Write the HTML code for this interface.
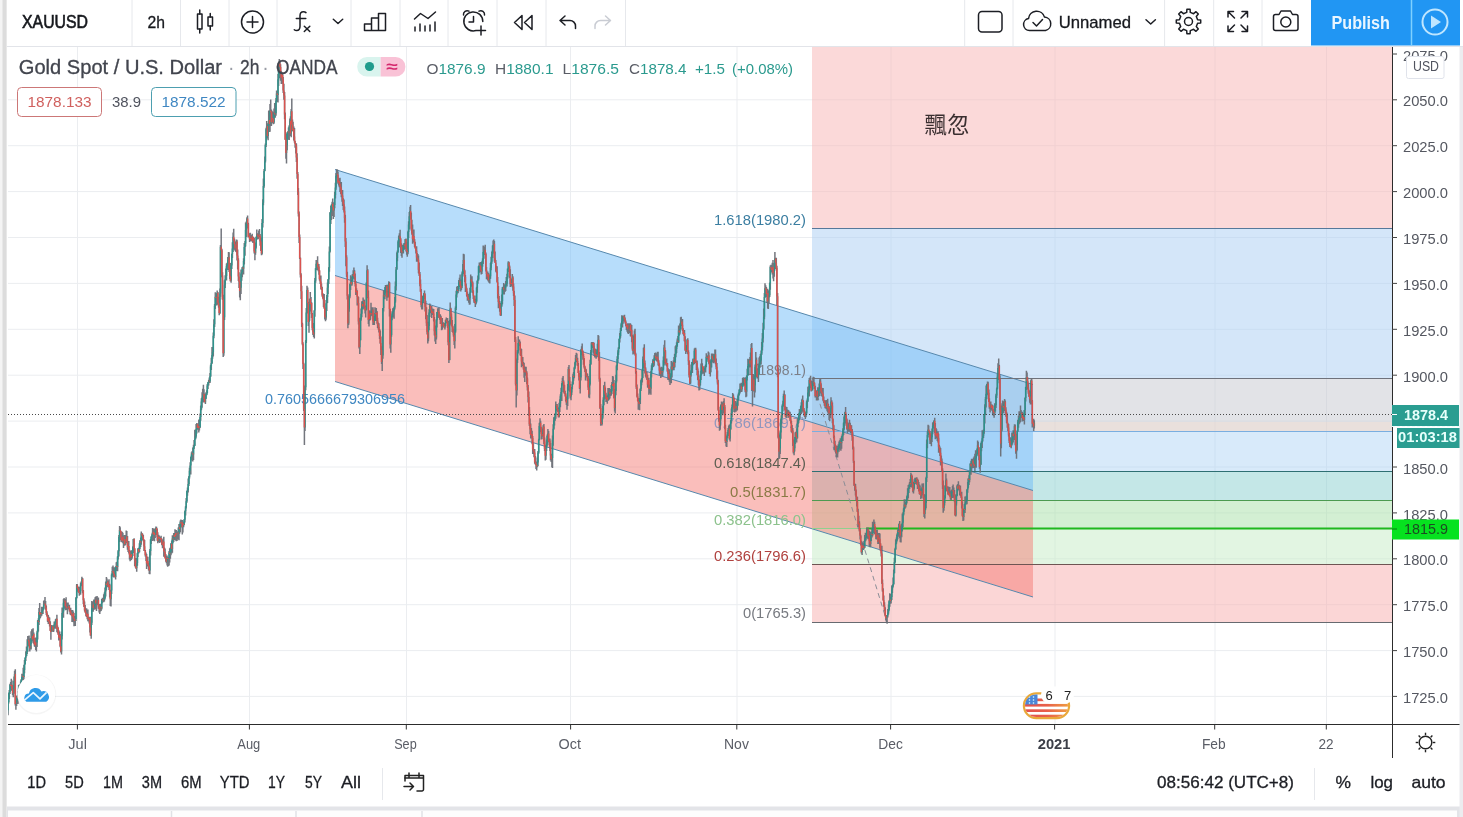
<!DOCTYPE html>
<html lang="en"><head><meta charset="utf-8"><title>XAUUSD chart</title>
<style>html,body{margin:0;padding:0;background:#fff;overflow:hidden}svg{display:block}text{white-space:pre}</style>
</head><body>
<svg width="1463" height="817" viewBox="0 0 1463 817" font-family='"Liberation Sans", sans-serif'>
<rect width="1463" height="817" fill="#ffffff"/>
<clipPath id="cp"><rect x="8" y="47" width="1384" height="677"/></clipPath>
<g clip-path="url(#cp)">
<line x1="77.5" y1="47" x2="77.5" y2="724" stroke="#ebedf0" stroke-width="1"/>
<line x1="249.5" y1="47" x2="249.5" y2="724" stroke="#ebedf0" stroke-width="1"/>
<line x1="406.5" y1="47" x2="406.5" y2="724" stroke="#ebedf0" stroke-width="1"/>
<line x1="570.5" y1="47" x2="570.5" y2="724" stroke="#ebedf0" stroke-width="1"/>
<line x1="737.0" y1="47" x2="737.0" y2="724" stroke="#ebedf0" stroke-width="1"/>
<line x1="891.0" y1="47" x2="891.0" y2="724" stroke="#ebedf0" stroke-width="1"/>
<line x1="1055.0" y1="47" x2="1055.0" y2="724" stroke="#ebedf0" stroke-width="1"/>
<line x1="1215.0" y1="47" x2="1215.0" y2="724" stroke="#ebedf0" stroke-width="1"/>
<line x1="1326.5" y1="47" x2="1326.5" y2="724" stroke="#ebedf0" stroke-width="1"/>
<line x1="8" y1="99.8" x2="1392" y2="99.8" stroke="#ebedf0" stroke-width="1"/>
<line x1="8" y1="145.7" x2="1392" y2="145.7" stroke="#ebedf0" stroke-width="1"/>
<line x1="8" y1="191.6" x2="1392" y2="191.6" stroke="#ebedf0" stroke-width="1"/>
<line x1="8" y1="237.5" x2="1392" y2="237.5" stroke="#ebedf0" stroke-width="1"/>
<line x1="8" y1="283.4" x2="1392" y2="283.4" stroke="#ebedf0" stroke-width="1"/>
<line x1="8" y1="329.3" x2="1392" y2="329.3" stroke="#ebedf0" stroke-width="1"/>
<line x1="8" y1="375.2" x2="1392" y2="375.2" stroke="#ebedf0" stroke-width="1"/>
<line x1="8" y1="421.1" x2="1392" y2="421.1" stroke="#ebedf0" stroke-width="1"/>
<line x1="8" y1="467.0" x2="1392" y2="467.0" stroke="#ebedf0" stroke-width="1"/>
<line x1="8" y1="512.9" x2="1392" y2="512.9" stroke="#ebedf0" stroke-width="1"/>
<line x1="8" y1="558.8" x2="1392" y2="558.8" stroke="#ebedf0" stroke-width="1"/>
<line x1="8" y1="604.7" x2="1392" y2="604.7" stroke="#ebedf0" stroke-width="1"/>
<line x1="8" y1="650.6" x2="1392" y2="650.6" stroke="#ebedf0" stroke-width="1"/>
<line x1="8" y1="696.4" x2="1392" y2="696.4" stroke="#ebedf0" stroke-width="1"/>
<rect x="812" y="47" width="580" height="182" fill="#f7b6b6" fill-opacity="0.52"/>
<rect x="812" y="229" width="580" height="149" fill="#a9cdf3" fill-opacity="0.5"/>
<rect x="812" y="378" width="580" height="53" fill="#c5c8d0" fill-opacity="0.5"/>
<rect x="812" y="431" width="580" height="40" fill="#a9d0f5" fill-opacity="0.45"/>
<rect x="812" y="471" width="580" height="29" fill="#8ad0d0" fill-opacity="0.5"/>
<rect x="812" y="500" width="580" height="28" fill="#a8e0a8" fill-opacity="0.5"/>
<rect x="812" y="528" width="580" height="36" fill="#c5ebc5" fill-opacity="0.5"/>
<rect x="812" y="564" width="580" height="58" fill="#f7b0b0" fill-opacity="0.52"/>
<rect x="812" y="422" width="580" height="9" fill="#f5d9c8" fill-opacity=".35"/>
<polygon points="335,169.5 1033,384.5 1033,490.5 335,275.5" fill="#6fbcf7" fill-opacity=".5"/>
<polygon points="335,275.5 1033,490.5 1033,597 335,381.5" fill="#f5746e" fill-opacity=".47"/>
<line x1="335" y1="169.5" x2="1033" y2="384.5" stroke="#5688ad" stroke-width="1"/>
<line x1="335" y1="275.5" x2="1033" y2="490.5" stroke="#5688ad" stroke-width="1"/>
<line x1="335" y1="381.5" x2="1033" y2="597" stroke="#5688ad" stroke-width="1"/>
<line x1="812" y1="228.5" x2="1392" y2="228.5" stroke="#56789a" stroke-width="1"/>
<line x1="812" y1="378.5" x2="1392" y2="378.5" stroke="#6f727b" stroke-width="1"/>
<line x1="812" y1="431.5" x2="1392" y2="431.5" stroke="#7aaee0" stroke-width="1"/>
<line x1="812" y1="471.5" x2="1392" y2="471.5" stroke="#2f6f73" stroke-width="1"/>
<line x1="812" y1="500.5" x2="1392" y2="500.5" stroke="#4c9a50" stroke-width="1"/>
<line x1="812" y1="528.5" x2="1392" y2="528.5" stroke="#8fd08f" stroke-width="1"/>
<line x1="812" y1="564.5" x2="1392" y2="564.5" stroke="#6e5553" stroke-width="1"/>
<line x1="812" y1="622.5" x2="1392" y2="622.5" stroke="#666a70" stroke-width="1"/>
<line x1="866" y1="528.5" x2="1392" y2="528.5" stroke="#1fb81f" stroke-width="2"/>
<line x1="812" y1="378" x2="887" y2="622" stroke="#8a8d96" stroke-width="1" stroke-dasharray="5,4"/>
<text x="265" y="404" font-size="14.5" fill="#3f87c2" textLength="140" lengthAdjust="spacingAndGlyphs">0.7605666679306956</text>
<text x="806" y="225" font-size="15.5" fill="#3b7ea1" text-anchor="end" textLength="92" lengthAdjust="spacingAndGlyphs">1.618(1980.2)</text>
<text x="806" y="375" font-size="15.5" fill="#7c7f88" text-anchor="end" textLength="60" lengthAdjust="spacingAndGlyphs">1(1898.1)</text>
<text x="806" y="428" font-size="15.5" fill="#9297bd" text-anchor="end" textLength="92" lengthAdjust="spacingAndGlyphs">0.786(1869.7)</text>
<text x="806" y="468" font-size="15.5" fill="#5f5f52" text-anchor="end" textLength="92" lengthAdjust="spacingAndGlyphs">0.618(1847.4)</text>
<text x="806" y="497" font-size="15.5" fill="#8a7a45" text-anchor="end" textLength="76" lengthAdjust="spacingAndGlyphs">0.5(1831.7)</text>
<text x="806" y="525" font-size="15.5" fill="#8cc28c" text-anchor="end" textLength="92" lengthAdjust="spacingAndGlyphs">0.382(1816.0)</text>
<text x="806" y="561" font-size="15.5" fill="#b0413e" text-anchor="end" textLength="92" lengthAdjust="spacingAndGlyphs">0.236(1796.6)</text>
<text x="806" y="618" font-size="15.5" fill="#777a80" text-anchor="end" textLength="63" lengthAdjust="spacingAndGlyphs">0(1765.3)</text>
<text x="924.5" y="132.5" font-size="22.5" fill="#3a2f30" textLength="45" lengthAdjust="spacingAndGlyphs" font-family='"Liberation Sans","Noto Sans CJK TC",sans-serif'>飄忽</text>
<g fill="none" stroke-width="1.5" opacity=".95"><path d="M6.7 712.9V721.5M7.4 707.1V714.8M8.0 700.4V715.3M8.7 693.0V703.5M9.3 690.0V698.9M10.0 683.7V693.9M10.7 681.9V690.3M11.3 678.7V690.1M12.0 680.4V691.1M12.6 688.6V695.2M13.3 685.2V697.2M14.0 676.6V693.8M14.6 670.7V684.3M15.3 669.3V705.5M15.9 699.1V709.8M16.6 695.6V705.9M17.3 695.7V701.3M17.9 691.3V704.1M18.6 685.0V699.9M19.2 684.4V691.0M19.9 684.8V688.4M20.6 681.6V692.5M21.2 679.5V684.9M21.9 673.7V680.8M22.5 674.6V680.6M23.2 667.7V680.1M23.9 665.1V682.2M24.5 659.9V673.2M25.2 657.3V664.6M25.8 651.3V661.0M26.5 646.5V656.3M27.2 639.2V654.0M27.8 636.0V651.7M28.5 637.5V644.0M29.1 635.4V646.1M29.8 641.3V651.6M30.5 638.4V648.6M31.1 631.2V649.5M31.8 629.2V638.4M32.4 630.1V641.5M33.1 628.2V643.2M33.8 632.4V643.8M34.4 637.9V646.4M35.1 639.2V647.0M35.7 637.6V650.1M36.4 637.8V651.4M37.1 630.7V647.0M37.7 620.0V639.5M38.4 618.3V631.6M39.0 608.1V625.1M39.7 602.9V619.2M40.4 611.9V618.0M41.0 612.5V616.4M41.7 606.7V615.7M42.3 609.8V614.1M43.0 606.7V614.0M43.7 600.7V609.4M44.3 600.2V605.6M45.0 597.0V604.8M45.6 601.1V609.7M46.3 605.6V614.9M47.0 611.2V616.7M47.6 614.6V622.0M48.3 615.1V624.0M48.9 616.8V624.1M49.6 617.4V626.6M50.3 621.2V631.1M50.9 627.2V639.7M51.6 625.0V632.0M52.2 625.2V629.9M52.9 625.7V631.5M53.6 625.6V632.1M54.2 621.6V628.8M54.9 622.7V628.3M55.5 619.3V628.7M56.2 618.7V625.5M56.9 614.8V631.9M57.5 625.5V633.0M58.2 627.5V634.8M58.8 630.3V640.4M59.5 631.5V639.3M60.2 634.1V647.3M60.8 641.7V652.4M61.5 631.5V654.6M62.1 607.5V639.4M62.8 609.6V614.5M63.5 599.0V617.8M64.1 597.9V608.7M64.8 598.9V607.7M65.4 601.0V610.2M66.1 597.3V609.5M66.8 602.6V609.9M67.4 606.0V614.3M68.1 602.4V608.8M68.7 605.8V609.2M69.4 604.7V611.5M70.1 608.6V614.6M70.7 607.7V615.3M71.4 610.1V615.0M72.0 609.9V621.9M72.7 610.0V618.2M73.4 611.5V622.3M74.0 612.9V626.3M74.7 616.3V622.5M75.3 616.1V625.9M76.0 597.0V621.1M76.7 584.0V598.5M77.3 584.3V591.7M78.0 586.6V589.7M78.6 586.6V592.7M79.3 587.9V595.8M80.0 586.8V593.5M80.6 582.4V594.7M81.3 581.3V586.2M81.9 576.8V585.5M82.6 577.9V593.3M83.3 589.9V603.9M83.9 598.2V607.0M84.6 601.4V611.2M85.2 605.1V612.6M85.9 609.4V616.2M86.6 608.2V617.1M87.2 612.9V619.2M87.9 609.6V621.2M88.5 617.2V621.4M89.2 616.7V623.4M89.9 617.0V632.4M90.5 623.9V635.8M91.2 616.6V638.7M91.8 600.9V625.0M92.5 601.5V608.1M93.2 602.0V611.8M93.8 599.6V608.2M94.5 602.2V609.8M95.1 597.3V609.2M95.8 596.4V604.3M96.5 600.1V611.1M97.1 595.9V605.1M97.8 597.6V604.2M98.4 597.4V608.7M99.1 604.1V612.6M99.8 603.9V613.9M100.4 603.8V611.4M101.1 603.8V610.9M101.7 599.0V609.5M102.4 597.8V603.3M103.1 597.7V601.1M103.7 594.2V602.3M104.4 592.5V601.4M105.0 587.6V599.4M105.7 581.6V596.5M106.4 577.1V590.3M107.0 578.5V586.2M107.7 580.5V587.0M108.3 584.0V587.6M109.0 579.3V589.9M109.7 583.8V597.6M110.3 591.1V606.0M111.0 589.7V606.5M111.6 573.6V593.9M112.3 566.7V576.8M113.0 565.6V576.5M113.6 568.1V577.6M114.3 567.2V576.7M114.9 568.2V577.6M115.6 566.6V579.6M116.3 562.2V570.6M116.9 561.7V571.0M117.6 556.0V571.3M118.2 549.9V559.5M118.9 534.9V556.5M119.6 526.0V541.9M120.2 527.3V537.5M120.9 530.8V540.3M121.5 535.0V542.3M122.2 531.7V540.7M122.9 532.8V543.2M123.5 536.8V547.9M124.2 535.3V541.9M124.8 535.1V545.7M125.5 535.3V544.9M126.2 530.6V542.9M126.8 530.9V542.2M127.5 536.0V549.7M128.1 541.0V552.0M128.8 541.1V553.5M129.5 549.8V559.6M130.1 552.9V561.2M130.8 550.5V560.2M131.4 553.3V560.1M132.1 550.1V558.8M132.8 546.2V556.0M133.4 539.0V549.4M134.1 538.3V553.1M134.7 548.2V566.0M135.4 557.9V567.4M136.1 561.9V568.9M136.7 557.9V571.7M137.4 552.7V565.7M138.0 548.0V556.9M138.7 548.1V553.5M139.4 543.2V552.6M140.0 540.0V549.0M140.7 537.4V547.0M141.3 531.5V544.8M142.0 533.0V537.8M142.7 533.8V540.3M143.3 535.0V541.2M144.0 539.4V550.9M144.6 540.1V551.1M145.3 549.9V556.4M146.0 552.4V561.1M146.6 553.9V569.0M147.3 556.8V565.2M147.9 556.8V566.4M148.6 562.8V570.4M149.3 566.4V574.1M149.9 549.1V574.3M150.6 538.9V555.5M151.2 536.4V543.9M151.9 533.5V541.1M152.6 528.0V541.1M153.2 528.5V539.5M153.9 530.8V540.6M154.5 528.6V541.2M155.2 530.8V538.1M155.9 526.5V535.0M156.5 526.8V532.1M157.2 528.4V540.7M157.8 532.2V543.2M158.5 534.8V542.3M159.2 535.6V538.2M159.8 536.8V542.9M160.5 537.3V542.1M161.1 535.8V541.2M161.8 539.9V545.2M162.5 539.5V548.2M163.1 538.5V546.4M163.8 536.8V556.7M164.4 547.5V555.2M165.1 548.4V558.5M165.8 554.1V561.8M166.4 556.5V563.2M167.1 555.5V565.4M167.7 557.1V566.7M168.4 557.7V566.1M169.1 551.0V565.6M169.7 548.2V562.5M170.4 547.6V558.7M171.0 542.9V555.3M171.7 540.4V553.6M172.4 535.2V552.8M173.0 538.3V543.3M173.7 532.9V542.0M174.3 533.5V540.1M175.0 529.2V539.9M175.7 530.0V540.5M176.3 530.0V541.2M177.0 533.1V541.1M177.6 531.3V539.4M178.3 527.5V536.9M179.0 524.0V540.3M179.6 526.1V533.7M180.3 520.4V532.3M180.9 519.4V524.2M181.6 520.1V527.4M182.3 520.0V534.5M182.9 521.8V532.6M183.6 521.6V527.2M184.2 519.0V525.3M184.9 510.5V522.4M185.6 506.0V515.4M186.2 498.0V508.6M186.9 490.7V502.8M187.5 487.6V495.7M188.2 478.5V492.6M188.9 476.1V486.0M189.5 467.8V478.4M190.2 462.2V472.5M190.8 456.6V474.5M191.5 452.2V460.6M192.2 450.9V456.3M192.8 447.5V461.4M193.5 444.8V459.9M194.1 440.1V449.0M194.8 429.8V445.9M195.5 430.9V439.4M196.1 423.9V437.8M196.8 422.9V433.4M197.4 423.9V429.8M198.1 423.6V428.4M198.8 419.8V432.4M199.4 419.2V430.5M200.1 413.6V428.1M200.7 405.4V420.8M201.4 398.3V410.2M202.1 392.2V407.8M202.7 388.7V400.0M203.4 384.7V402.4M204.0 389.3V399.3M204.7 393.4V402.3M205.4 395.7V404.0M206.0 392.3V398.9M206.7 390.3V395.3M207.3 383.9V393.4M208.0 382.1V388.9M208.7 379.8V385.4M209.3 377.6V383.0M210.0 373.1V383.1M210.6 364.7V377.0M211.3 357.7V370.1M212.0 347.1V363.9M212.6 351.4V358.7M213.3 332.6V356.5M213.9 319.2V338.3M214.6 303.9V326.9M215.3 292.2V309.0M215.9 294.2V303.5M216.6 293.3V305.6M217.2 290.4V298.3M217.9 292.0V304.7M218.6 296.8V307.8M219.2 301.9V315.3M219.9 288.5V314.1M220.5 245.1V296.7M221.2 228.6V253.3M221.9 248.7V277.3M222.5 272.3V299.8M223.2 294.7V357.1M223.8 310.6V355.8M224.5 280.3V320.1M225.2 275.2V288.0M225.8 268.5V279.9M226.5 263.6V280.5M227.1 262.8V267.8M227.8 257.0V270.0M228.5 252.1V263.6M229.1 252.2V272.0M229.8 262.8V279.1M230.4 271.6V281.5M231.1 263.1V282.7M231.8 253.5V268.9M232.4 242.2V258.1M233.1 232.6V252.1M233.7 228.8V244.4M234.4 238.6V249.7M235.1 242.9V250.7M235.7 241.6V251.8M236.4 239.4V252.2M237.0 239.8V260.5M237.7 249.4V269.4M238.4 258.2V280.9M239.0 272.2V287.9M239.7 281.6V297.4M240.3 286.5V300.3M241.0 269.4V293.9M241.7 271.1V280.8M242.3 267.1V277.3M243.0 266.3V273.9M243.6 258.2V274.6M244.3 243.1V264.6M245.0 240.9V255.7M245.6 222.6V246.6M246.3 221.6V237.0M246.9 217.3V228.6M247.6 215.6V227.2M248.3 222.7V237.6M248.9 233.5V237.0M249.6 233.2V242.1M250.2 232.7V241.2M250.9 234.9V240.3M251.6 236.0V240.9M252.2 233.8V241.7M252.9 236.5V242.9M253.5 236.9V243.0M254.2 238.0V253.6M254.9 247.2V260.3M255.5 242.4V254.7M256.2 236.4V248.4M256.8 229.4V239.8M257.5 233.3V238.5M258.2 234.5V239.3M258.8 230.4V237.3M259.5 228.9V236.5M260.1 234.1V245.7M260.8 237.5V251.1M261.5 243.7V255.2M262.1 219.0V254.5M262.8 199.3V227.5M263.4 178.5V205.3M264.1 169.0V187.7M264.8 156.6V171.3M265.4 143.5V162.6M266.1 127.7V147.0M266.7 121.1V133.6M267.4 125.7V138.4M268.1 123.2V140.2M268.7 110.6V130.2M269.4 118.6V132.1M270.0 103.9V131.8M270.7 99.5V117.0M271.4 109.5V126.1M272.0 110.8V123.1M272.7 111.7V120.3M273.3 115.3V124.3M274.0 108.5V123.7M274.7 103.1V115.2M275.3 105.9V117.8M276.0 98.1V115.7M276.6 90.6V102.1M277.3 92.4V98.3M278.0 74.1V102.5M278.6 63.0V86.1M279.3 58.9V77.9M279.9 61.5V75.0M280.6 64.2V80.8M281.3 70.7V84.1M281.9 72.0V83.4M282.6 73.8V83.8M283.2 76.9V93.0M283.9 83.7V99.8M284.6 92.0V119.2M285.2 112.4V140.0M285.9 133.8V158.8M286.5 139.0V163.4M287.2 132.2V150.3M287.9 131.3V136.2M288.5 127.4V139.8M289.2 125.3V140.1M289.8 118.4V134.0M290.5 116.3V136.0M291.2 109.1V137.2M291.8 98.6V127.1M292.5 119.6V131.2M293.1 121.8V131.6M293.8 126.4V140.6M294.5 128.1V142.8M295.1 140.7V147.8M295.8 143.1V153.5M296.4 143.5V162.0M297.1 153.3V178.8M297.8 172.0V194.9M298.4 188.0V216.5M299.1 211.4V243.0M299.7 234.4V259.1M300.4 257.5V277.4M301.1 273.2V299.0M301.7 285.8V327.1M302.4 322.8V345.2M303.0 342.3V368.9M303.7 362.8V411.0M304.4 408.2V445.1M305.0 385.5V431.1M305.7 340.0V390.2M306.3 307.9V343.1M307.0 285.7V313.6M307.7 287.5V306.1M308.3 301.8V326.0M309.0 312.1V332.8M309.6 298.6V320.8M310.3 292.0V307.4M311.0 297.0V311.6M311.6 302.2V317.9M312.3 312.9V330.2M312.9 323.0V335.0M313.6 329.3V337.0M314.3 310.3V338.5M314.9 278.0V316.7M315.6 268.2V282.8M316.2 259.9V270.3M316.9 260.5V266.0M317.6 256.3V270.0M318.2 264.9V271.3M318.9 264.0V274.8M319.5 270.2V280.5M320.2 276.8V283.9M320.9 275.4V289.2M321.5 283.6V290.1M322.2 286.8V296.7M322.8 293.0V298.8M323.5 296.0V306.9M324.2 294.1V308.7M324.8 307.4V319.4M325.5 313.7V321.2M326.1 299.9V319.7M326.8 294.9V310.9M327.5 282.4V303.1M328.1 279.1V293.9M328.8 267.1V284.1M329.4 246.6V271.8M330.1 212.1V252.5M330.8 206.1V224.1M331.4 204.4V220.1M332.1 201.7V214.4M332.7 198.4V215.9M333.4 203.8V218.9M334.1 202.3V217.1M334.7 191.8V208.3M335.4 182.8V198.4M336.0 173.1V189.8M336.7 169.2V177.8M337.4 169.6V175.9M338.0 171.6V183.7M338.7 178.3V185.5M339.3 180.2V187.3M340.0 177.8V192.0M340.7 185.5V194.0M341.3 182.0V197.3M342.0 192.7V201.8M342.6 190.0V206.0M343.3 198.2V210.1M344.0 199.4V212.4M344.6 206.5V222.8M345.3 214.7V247.1M345.9 238.1V266.2M346.6 255.2V276.9M347.3 271.8V299.4M347.9 295.5V328.2M348.6 306.3V324.9M349.2 293.9V311.8M349.9 283.4V298.2M350.6 275.2V290.0M351.2 281.3V285.3M351.9 276.6V285.7M352.5 274.1V280.9M353.2 270.3V278.8M353.9 267.4V276.4M354.5 269.9V279.5M355.2 273.4V286.6M355.8 281.0V295.1M356.5 288.2V295.0M357.2 290.3V305.6M357.8 296.1V303.2M358.5 297.1V324.6M359.1 317.8V348.6M359.8 333.9V354.0M360.5 317.7V340.3M361.1 308.5V320.7M361.8 301.3V317.3M362.4 301.4V308.3M363.1 297.6V309.4M363.8 299.6V303.3M364.4 299.8V308.5M365.1 305.4V313.6M365.7 308.8V317.4M366.4 282.3V310.3M367.1 265.2V287.7M367.7 269.0V298.3M368.4 290.4V324.0M369.0 310.2V326.6M369.7 310.6V320.8M370.4 311.2V320.1M371.0 302.7V315.3M371.7 307.2V315.8M372.3 309.2V316.2M373.0 307.2V325.1M373.7 315.9V324.1M374.3 317.8V325.1M375.0 307.2V320.9M375.6 311.0V320.9M376.3 308.1V319.2M377.0 311.1V323.8M377.6 317.8V328.1M378.3 322.5V329.4M378.9 323.3V332.4M379.6 329.0V338.9M380.3 330.6V344.0M380.9 336.5V354.9M381.6 346.3V363.9M382.2 355.2V371.1M382.9 308.0V358.7M383.6 290.2V311.5M384.2 292.4V298.6M384.9 287.1V299.2M385.5 285.0V293.4M386.2 285.3V290.0M386.9 284.7V300.7M387.5 290.3V297.5M388.2 284.4V297.6M388.8 281.3V289.0M389.5 281.9V316.4M390.2 308.8V348.4M390.8 327.5V352.8M391.5 315.6V336.8M392.1 311.2V320.2M392.8 308.3V316.1M393.5 308.1V317.6M394.1 306.4V318.7M394.8 297.1V309.6M395.4 281.5V302.7M396.1 266.9V290.5M396.8 252.4V269.7M397.4 250.6V261.2M398.1 240.3V252.8M398.7 235.5V247.0M399.4 233.2V242.9M400.1 229.8V247.7M400.7 238.0V253.1M401.4 243.2V256.1M402.0 247.4V257.7M402.7 244.8V253.2M403.4 245.6V253.6M404.0 242.9V250.1M404.7 243.7V248.6M405.3 239.1V248.9M406.0 238.6V251.6M406.7 242.0V254.7M407.3 249.5V256.7M408.0 230.8V254.3M408.6 221.3V237.9M409.3 211.9V229.5M410.0 206.8V218.1M410.6 205.1V219.6M411.3 212.4V230.6M411.9 219.7V234.7M412.6 224.5V243.7M413.3 233.3V242.5M413.9 229.6V242.6M414.6 239.1V246.9M415.2 242.0V248.6M415.9 246.6V253.5M416.6 246.2V261.7M417.2 252.9V261.8M417.9 253.9V260.7M418.5 255.5V273.3M419.2 262.5V275.9M419.9 271.9V286.2M420.5 279.5V291.8M421.2 289.1V307.2M421.8 295.9V309.4M422.5 296.4V309.4M423.2 295.2V302.9M423.8 293.2V299.1M424.5 290.4V295.9M425.1 293.6V311.6M425.8 300.8V319.2M426.5 307.3V326.0M427.1 314.9V334.4M427.8 323.3V343.4M428.4 321.8V341.3M429.1 309.2V330.3M429.8 303.6V317.0M430.4 304.7V312.4M431.1 307.7V313.3M431.7 306.0V318.0M432.4 308.6V315.1M433.1 308.7V314.5M433.7 309.1V321.4M434.4 317.1V335.5M435.0 325.6V341.5M435.7 333.4V344.1M436.4 318.9V339.5M437.0 312.0V327.4M437.7 308.3V317.4M438.3 310.3V313.9M439.0 307.5V318.0M439.7 314.2V319.7M440.3 314.2V324.0M441.0 315.8V323.9M441.6 318.5V330.2M442.3 318.0V329.6M443.0 322.1V326.0M443.6 322.9V326.8M444.3 322.9V328.1M444.9 322.7V329.6M445.6 319.4V326.3M446.3 317.6V323.3M446.9 318.5V323.3M447.6 318.0V328.1M448.2 321.0V345.3M448.9 342.1V363.0M449.6 319.9V360.2M450.2 302.6V324.5M450.9 307.7V318.8M451.5 313.4V325.8M452.2 319.9V331.9M452.9 325.7V332.8M453.5 331.2V336.8M454.2 329.1V345.0M454.8 323.9V348.6M455.5 306.6V332.7M456.2 290.8V310.1M456.8 286.8V297.4M457.5 286.0V291.3M458.1 286.8V293.3M458.8 280.1V291.2M459.5 277.8V286.3M460.1 274.6V287.0M460.8 279.6V291.6M461.4 284.2V290.0M462.1 271.5V288.1M462.8 263.9V276.4M463.4 253.8V273.4M464.1 254.3V274.2M464.7 269.7V282.2M465.4 275.1V292.1M466.1 283.6V291.3M466.7 287.8V296.5M467.4 291.4V300.7M468.0 295.3V299.4M468.7 293.8V302.8M469.4 296.3V304.8M470.0 287.8V304.6M470.7 274.5V292.7M471.3 277.9V282.5M472.0 276.3V286.7M472.7 281.5V293.2M473.3 290.2V299.0M474.0 295.4V302.8M474.6 298.7V303.1M475.3 299.7V306.9M476.0 295.5V304.4M476.6 286.8V302.4M477.3 280.6V292.8M477.9 275.6V283.8M478.6 265.9V280.4M479.3 262.4V272.8M479.9 263.2V267.1M480.6 262.1V272.2M481.2 266.2V274.6M481.9 261.3V274.1M482.6 258.2V266.8M483.2 245.6V263.9M483.9 250.3V258.7M484.5 246.4V252.3M485.2 244.7V255.0M485.9 252.6V271.6M486.5 266.9V279.3M487.2 273.7V279.6M487.8 271.4V280.6M488.5 273.1V281.7M489.2 277.9V282.9M489.8 274.6V283.5M490.5 262.9V278.8M491.1 256.7V270.3M491.8 251.6V263.8M492.5 245.4V258.0M493.1 240.4V253.6M493.8 239.5V249.2M494.4 241.0V261.5M495.1 251.6V263.0M495.8 259.9V271.8M496.4 266.1V272.8M497.1 266.3V282.5M497.7 277.0V298.5M498.4 286.1V308.3M499.1 296.0V307.2M499.7 301.0V311.8M500.4 303.6V315.7M501.0 302.7V315.9M501.7 294.4V307.1M502.4 286.9V304.2M503.0 286.8V291.1M503.7 283.1V294.5M504.3 284.3V294.6M505.0 284.8V292.1M505.7 281.0V290.9M506.3 276.9V285.1M507.0 273.7V286.5M507.6 268.6V278.7M508.3 261.3V272.1M509.0 261.7V271.8M509.6 265.6V278.0M510.3 269.3V286.9M510.9 279.9V286.2M511.6 278.7V286.0M512.3 274.0V287.3M512.9 276.3V290.7M513.6 283.5V296.0M514.2 290.7V305.9M514.9 295.4V342.1M515.6 336.9V385.5M516.2 381.3V407.4M516.9 358.5V395.4M517.5 349.9V362.9M518.2 336.3V353.6M518.9 339.7V345.1M519.5 339.6V346.2M520.2 341.5V355.4M520.8 348.2V355.9M521.5 349.0V367.2M522.2 357.2V364.7M522.8 357.0V366.0M523.5 361.9V369.7M524.1 362.9V377.7M524.8 366.5V382.0M525.5 368.5V371.7M526.1 366.7V375.8M526.8 371.3V384.3M527.4 377.5V390.6M528.1 385.0V402.5M528.8 391.5V416.1M529.4 406.9V425.9M530.1 418.5V434.2M530.7 423.5V438.4M531.4 428.0V435.3M532.1 430.7V444.3M532.7 436.1V454.0M533.4 443.2V453.5M534.0 449.3V457.3M534.7 449.1V463.8M535.4 456.0V464.8M536.0 461.5V468.9M536.7 463.2V470.4M537.3 457.4V467.2M538.0 450.9V466.3M538.7 438.7V453.8M539.3 422.8V440.6M540.0 418.2V431.0M540.6 420.7V432.3M541.3 426.8V439.6M542.0 431.5V439.2M542.6 428.6V436.6M543.3 424.9V435.3M543.9 423.9V444.3M544.6 437.5V450.9M545.3 444.8V460.5M545.9 444.8V459.7M546.6 439.6V451.1M547.2 434.5V445.7M547.9 429.0V441.0M548.6 430.9V442.3M549.2 440.3V445.3M549.9 438.4V451.1M550.5 443.1V460.5M551.2 455.0V462.1M551.9 453.8V467.3M552.5 435.5V468.1M553.2 424.2V445.7M553.8 417.3V429.8M554.5 416.8V425.5M555.2 413.1V420.7M555.8 401.4V418.7M556.5 404.2V410.7M557.1 404.0V410.4M557.8 408.0V412.1M558.5 410.5V417.5M559.1 402.7V417.5M559.8 399.3V412.1M560.4 394.2V407.3M561.1 387.8V396.7M561.8 383.1V400.9M562.4 377.7V385.4M563.1 376.1V384.0M563.7 380.5V392.4M564.4 384.7V393.8M565.1 390.8V396.4M565.7 393.3V401.6M566.4 396.7V404.9M567.0 396.5V409.8M567.7 384.1V406.0M568.4 367.1V390.7M569.0 364.9V384.2M569.7 376.9V391.8M570.3 384.0V398.6M571.0 390.6V400.2M571.7 386.9V395.1M572.3 381.4V389.3M573.0 373.8V384.8M573.6 372.1V380.7M574.3 366.7V378.3M575.0 361.7V369.3M575.6 355.1V365.6M576.3 352.8V362.1M576.9 353.6V362.0M577.6 357.7V365.8M578.3 362.9V373.1M578.9 370.5V380.5M579.6 372.9V389.1M580.2 374.8V393.6M580.9 349.2V380.4M581.6 346.2V352.8M582.2 343.4V355.3M582.9 350.5V359.7M583.5 354.1V364.7M584.2 358.3V368.4M584.9 365.7V372.0M585.5 368.4V380.6M586.2 369.3V377.1M586.8 372.9V377.3M587.5 373.7V381.0M588.2 376.0V390.1M588.8 383.7V397.4M589.5 378.5V398.2M590.1 359.7V385.6M590.8 349.9V364.9M591.5 341.9V354.5M592.1 342.1V346.4M592.8 341.9V348.1M593.4 342.6V353.5M594.1 342.7V356.1M594.8 348.6V357.6M595.4 348.7V356.5M596.1 351.8V358.8M596.7 349.4V357.4M597.4 343.7V355.5M598.1 334.9V349.5M598.7 335.8V360.7M599.4 352.1V381.7M600.0 377.7V409.0M600.7 403.9V425.7M601.4 417.5V425.2M602.0 413.8V425.6M602.7 405.8V419.3M603.3 397.3V413.3M604.0 385.0V405.2M604.7 381.8V392.1M605.3 387.6V398.4M606.0 392.8V402.0M606.6 396.1V401.6M607.3 395.9V403.7M608.0 387.9V400.8M608.6 391.4V400.3M609.3 388.0V399.4M609.9 391.3V398.6M610.6 388.9V396.0M611.3 385.1V395.6M611.9 382.1V393.9M612.6 376.1V386.1M613.2 376.6V386.4M613.9 379.9V398.4M614.6 392.3V411.6M615.2 389.0V413.5M615.9 374.8V395.2M616.5 364.8V382.4M617.2 356.3V370.2M617.9 350.3V362.4M618.5 346.9V354.9M619.2 338.5V349.0M619.8 333.0V342.5M620.5 328.0V337.8M621.2 322.8V330.9M621.8 315.3V325.8M622.5 315.4V327.4M623.1 315.6V323.8M623.8 315.7V318.9M624.5 314.7V321.3M625.1 317.5V323.6M625.8 320.6V325.9M626.4 324.1V329.9M627.1 324.4V331.7M627.8 323.3V333.3M628.4 326.7V333.9M629.1 323.3V332.1M629.7 323.5V333.1M630.4 323.2V336.2M631.1 324.4V336.8M631.7 325.0V342.2M632.4 334.8V350.6M633.0 346.1V354.4M633.7 335.5V353.7M634.4 330.6V340.9M635.0 328.7V355.6M635.7 352.8V373.7M636.3 371.1V389.1M637.0 384.5V397.4M637.7 393.4V401.3M638.3 397.9V409.7M639.0 400.7V405.2M639.6 398.0V410.2M640.3 388.5V404.0M641.0 379.8V391.1M641.6 378.1V385.3M642.3 368.7V382.6M642.9 356.5V377.9M643.6 347.6V363.8M644.3 344.2V367.9M644.9 360.6V373.4M645.6 367.3V376.7M646.2 372.4V378.2M646.9 372.1V380.1M647.6 374.8V387.4M648.2 379.4V387.9M648.9 377.7V394.7M649.5 384.6V393.0M650.2 384.5V393.5M650.9 370.9V394.8M651.5 365.2V377.5M652.2 363.1V370.2M652.8 359.3V367.2M653.5 360.4V366.9M654.2 355.3V365.7M654.8 353.1V360.4M655.5 352.5V360.5M656.1 353.3V360.4M656.8 353.4V361.5M657.5 351.8V359.8M658.1 351.7V365.4M658.8 360.2V366.3M659.4 363.6V374.7M660.1 367.4V375.7M660.8 369.0V378.1M661.4 366.7V376.6M662.1 369.1V374.8M662.7 367.2V376.5M663.4 356.4V370.5M664.1 344.7V365.6M664.7 340.2V352.3M665.4 349.9V363.5M666.0 361.2V365.5M666.7 358.6V366.4M667.4 363.0V372.1M668.0 368.1V380.1M668.7 372.4V377.9M669.3 369.2V381.8M670.0 376.0V384.9M670.7 373.3V381.5M671.3 360.9V383.2M672.0 362.7V377.4M672.6 362.4V370.5M673.3 360.4V369.6M674.0 356.9V370.3M674.6 353.7V367.8M675.3 346.2V362.7M675.9 345.3V357.3M676.6 342.2V352.9M677.3 338.4V346.8M677.9 335.9V342.9M678.6 325.5V342.9M679.2 329.2V335.8M679.9 323.5V334.5M680.6 317.3V329.5M681.2 316.8V325.7M681.9 320.7V325.9M682.5 319.1V331.0M683.2 328.3V334.5M683.9 330.0V336.0M684.5 330.0V341.5M685.2 336.2V350.9M685.8 346.1V353.9M686.5 345.0V352.3M687.2 339.1V347.7M687.8 338.3V354.3M688.5 350.2V365.1M689.1 360.3V377.5M689.8 374.7V384.0M690.5 371.4V384.0M691.1 364.4V376.5M691.8 362.0V372.7M692.4 361.8V373.1M693.1 358.6V365.3M693.8 358.7V363.9M694.4 348.6V364.2M695.1 347.7V354.9M695.7 347.7V362.9M696.4 360.8V369.9M697.1 360.4V375.2M697.7 367.6V379.9M698.4 370.8V385.2M699.0 379.4V390.6M699.7 381.4V390.1M700.4 374.6V385.5M701.0 363.6V379.9M701.7 358.7V374.4M702.3 363.3V371.3M703.0 366.2V373.8M703.7 368.6V372.4M704.3 367.6V375.9M705.0 366.1V371.0M705.6 364.6V372.5M706.3 353.2V366.9M707.0 356.2V361.7M707.6 355.4V359.5M708.3 351.4V357.6M708.9 352.4V364.3M709.6 360.2V374.1M710.3 364.9V376.4M710.9 359.2V372.3M711.6 353.4V367.4M712.2 355.3V362.4M712.9 353.6V362.4M713.6 357.5V363.2M714.2 353.9V362.4M714.9 349.6V358.2M715.5 349.4V364.2M716.2 358.4V369.3M716.9 363.0V379.2M717.5 370.5V384.5M718.2 379.9V410.8M718.8 406.8V421.7M719.5 418.2V430.7M720.2 417.7V429.8M720.8 404.4V420.5M721.5 401.4V411.3M722.1 402.2V413.7M722.8 408.6V415.2M723.5 400.9V413.2M724.1 398.2V411.3M724.8 405.0V429.3M725.4 424.7V443.0M726.1 439.2V446.6M726.8 435.4V447.1M727.4 432.0V438.2M728.1 428.1V435.9M728.7 425.5V432.4M729.4 424.4V439.7M730.1 426.8V441.6M730.7 419.7V430.0M731.4 408.5V423.4M732.0 404.5V417.2M732.7 392.9V407.6M733.4 394.3V402.5M734.0 397.4V412.1M734.7 406.9V412.6M735.3 400.9V409.5M736.0 404.2V411.7M736.7 402.5V409.3M737.3 398.8V410.6M738.0 394.6V405.7M738.6 392.5V399.3M739.3 389.0V395.2M740.0 383.4V393.6M740.6 385.0V390.1M741.3 382.8V392.0M741.9 384.3V391.7M742.6 377.9V387.0M743.3 377.3V385.4M743.9 378.2V385.7M744.6 377.8V385.5M745.2 377.2V392.3M745.9 383.5V397.2M746.6 375.7V396.5M747.2 368.7V380.5M747.9 358.7V375.9M748.5 361.3V373.9M749.2 359.3V366.2M749.9 356.9V367.6M750.5 352.4V367.1M751.2 344.0V361.3M751.8 342.9V391.0M752.5 387.5V406.5M753.2 374.1V390.5M753.8 375.3V391.6M754.5 378.4V397.6M755.1 364.6V392.6M755.8 351.9V373.5M756.5 357.5V376.4M757.1 368.3V378.4M757.8 368.6V377.9M758.4 363.4V382.1M759.1 357.4V374.7M759.8 356.3V367.7M760.4 354.1V363.5M761.1 350.6V364.5M761.7 342.1V355.0M762.4 332.9V350.4M763.1 322.8V342.5M763.7 308.6V329.9M764.4 293.1V319.2M765.0 283.2V298.1M765.7 285.2V292.0M766.4 287.1V296.9M767.0 290.5V303.0M767.7 288.8V308.5M768.3 296.0V309.1M769.0 290.3V303.6M769.7 282.6V297.1M770.3 265.4V289.8M771.0 264.8V271.5M771.6 266.0V272.4M772.3 262.7V274.4M773.0 260.0V278.5M773.6 266.1V281.2M774.3 263.1V276.8M774.9 252.1V268.9M775.6 257.7V267.0M776.3 257.8V270.5M776.9 265.8V304.9M777.6 293.0V377.2M778.2 367.6V438.4M778.9 434.5V459.0M779.6 443.5V458.5M780.2 430.6V454.1M780.9 418.4V438.7M781.5 414.6V424.7M782.2 404.4V418.4M782.9 400.7V411.5M783.5 393.7V406.8M784.2 390.4V396.5M784.8 393.9V410.6M785.5 406.2V416.8M786.2 411.3V418.0M786.8 406.9V414.8M787.5 409.4V415.3M788.1 410.0V418.1M788.8 410.5V416.8M789.5 411.7V416.1M790.1 411.8V421.0M790.8 415.5V423.5M791.4 421.0V432.3M792.1 424.9V433.3M792.8 427.9V446.0M793.4 439.6V453.5M794.1 443.8V455.3M794.7 437.0V451.6M795.4 432.2V443.9M796.1 431.6V440.0M796.7 428.2V442.5M797.4 418.5V438.6M798.0 417.7V427.2M798.7 413.2V423.3M799.4 409.0V420.1M800.0 410.9V417.9M800.7 405.7V414.2M801.3 402.2V414.1M802.0 398.8V412.7M802.7 395.6V409.2M803.3 400.3V411.4M804.0 407.9V415.5M804.6 410.7V417.1M805.3 412.8V418.9M806.0 411.7V417.3M806.6 400.4V414.4M807.3 398.6V408.2M807.9 386.8V401.9M808.6 386.2V394.2M809.3 378.1V396.4M809.9 377.6V384.0M810.6 375.8V388.2M811.2 380.5V391.4M811.9 386.2V390.5M812.6 381.1V390.4M813.2 376.8V384.2M813.9 377.1V386.0M814.5 382.4V389.1M815.2 385.8V397.4M815.9 391.2V396.4M816.5 390.6V400.4M817.2 389.9V400.5M817.8 387.2V400.6M818.5 388.6V396.9M819.2 383.4V394.0M819.8 379.2V396.0M820.5 379.1V390.6M821.1 383.2V393.5M821.8 387.8V396.2M822.5 389.3V397.1M823.1 388.0V401.3M823.8 396.6V403.0M824.4 401.0V405.7M825.1 400.3V408.3M825.8 403.1V408.5M826.4 399.9V409.2M827.1 402.5V411.3M827.7 398.7V412.4M828.4 404.0V414.4M829.1 406.0V420.1M829.7 408.4V421.3M830.4 407.8V418.1M831.0 397.3V414.1M831.7 400.3V414.4M832.4 402.6V423.3M833.0 418.4V430.4M833.7 424.7V438.5M834.3 435.4V449.9M835.0 440.7V450.2M835.7 445.3V453.4M836.3 449.0V457.2M837.0 445.8V457.0M837.6 447.7V457.5M838.3 444.3V450.7M839.0 441.5V451.8M839.6 440.3V448.2M840.3 438.2V449.7M840.9 440.0V450.7M841.6 435.7V448.7M842.3 433.8V440.5M842.9 428.2V440.9M843.6 422.2V434.9M844.2 415.4V429.8M844.9 411.8V425.8M845.6 406.9V420.4M846.2 413.7V423.4M846.9 418.6V429.7M847.5 422.2V433.3M848.2 422.8V430.1M848.9 423.0V431.7M849.5 419.8V430.9M850.2 422.7V432.5M850.8 425.0V433.6M851.5 425.3V433.3M852.2 428.9V440.8M852.8 432.3V449.4M853.5 446.5V463.0M854.1 460.7V485.9M854.8 483.6V490.7M855.5 484.0V495.6M856.1 489.6V501.1M856.8 496.6V506.6M857.4 496.8V512.1M858.1 508.8V526.9M858.8 515.8V527.2M859.4 521.2V531.6M860.1 528.1V539.4M860.7 534.7V545.5M861.4 540.7V553.4M862.1 542.6V555.0M862.7 543.1V549.7M863.4 542.7V549.9M864.0 541.0V549.3M864.7 535.1V548.0M865.4 532.8V541.5M866.0 533.2V540.4M866.7 528.2V538.3M867.3 527.5V537.2M868.0 527.4V539.3M868.7 532.5V537.0M869.3 530.5V546.5M870.0 537.1V547.3M870.6 531.8V546.9M871.3 531.5V541.0M872.0 528.0V537.6M872.6 521.8V536.2M873.3 523.2V533.0M873.9 519.5V531.2M874.6 521.7V534.2M875.3 526.5V534.6M875.9 530.1V539.3M876.6 533.1V538.9M877.2 529.8V539.8M877.9 534.3V544.0M878.6 532.9V542.1M879.2 533.1V544.0M879.9 533.6V548.4M880.5 543.2V550.8M881.2 546.1V556.4M881.9 545.7V583.9M882.5 579.5V591.7M883.2 588.2V600.7M883.8 595.6V606.7M884.5 602.3V611.3M885.2 607.2V616.4M885.8 615.0V620.5M886.5 616.3V622.2M887.1 614.9V623.8M887.8 609.1V617.4M888.5 604.6V614.5M889.1 600.3V610.8M889.8 593.2V606.7M890.4 596.7V603.8M891.1 593.9V603.6M891.8 585.4V600.1M892.4 585.1V593.1M893.1 577.4V587.6M893.7 569.6V584.7M894.4 557.7V573.2M895.1 547.8V563.3M895.7 539.3V549.9M896.4 537.4V544.3M897.0 533.5V541.6M897.7 529.3V539.2M898.4 528.3V534.3M899.0 523.4V536.8M899.7 521.0V538.3M900.3 527.1V542.3M901.0 525.5V542.5M901.7 524.0V537.2M902.3 513.4V531.6M903.0 512.3V527.1M903.6 507.7V515.6M904.3 499.3V511.8M905.0 503.7V508.8M905.6 502.0V507.8M906.3 499.1V505.0M906.9 495.6V503.4M907.6 488.3V499.9M908.3 484.9V498.3M908.9 484.4V493.1M909.6 482.1V489.0M910.2 478.9V485.2M910.9 472.8V487.0M911.6 474.3V481.3M912.2 475.7V488.1M912.9 481.7V492.3M913.5 486.1V493.5M914.2 479.3V489.6M914.9 477.7V484.1M915.5 478.2V484.2M916.2 477.4V479.9M916.8 477.2V484.7M917.5 478.8V488.9M918.2 479.7V487.6M918.8 482.0V491.4M919.5 484.4V494.2M920.1 485.5V494.9M920.8 489.2V499.1M921.5 488.4V497.9M922.1 483.6V495.2M922.8 483.8V494.1M923.4 483.3V499.0M924.1 494.1V517.1M924.8 507.1V518.6M925.4 494.7V510.2M926.1 476.7V508.2M926.7 439.5V482.0M927.4 431.2V448.3M928.1 424.8V437.6M928.7 425.4V434.8M929.4 430.7V433.9M930.0 431.1V443.9M930.7 435.7V443.2M931.4 434.6V446.3M932.0 428.6V442.0M932.7 422.6V434.2M933.3 422.0V428.4M934.0 420.3V425.2M934.7 417.8V432.9M935.3 422.9V439.3M936.0 428.1V438.6M936.6 429.2V437.2M937.3 432.7V440.9M938.0 431.3V442.5M938.6 433.8V452.7M939.3 444.7V450.8M939.9 446.6V456.0M940.6 448.0V465.5M941.3 455.5V465.6M941.9 458.5V472.1M942.6 468.2V488.9M943.2 480.4V512.7M943.9 502.5V510.7M944.6 495.2V505.6M945.2 485.1V498.4M945.9 473.5V491.0M946.5 478.4V488.5M947.2 486.2V491.7M947.9 489.0V494.6M948.5 486.4V495.3M949.2 491.6V495.4M949.8 487.0V496.6M950.5 493.2V499.8M951.2 490.6V500.0M951.8 489.5V492.8M952.5 486.1V498.1M953.1 484.6V497.7M953.8 487.5V494.8M954.5 490.0V502.3M955.1 494.6V515.5M955.8 501.0V516.6M956.4 494.2V505.6M957.1 484.7V496.3M957.8 484.1V491.3M958.4 481.3V489.6M959.1 484.8V489.9M959.7 485.6V495.3M960.4 485.5V496.1M961.1 492.0V497.9M961.7 491.8V508.4M962.4 501.4V516.4M963.0 510.5V520.9M963.7 508.6V520.4M964.4 504.1V512.1M965.0 496.5V513.0M965.7 499.6V505.1M966.3 495.7V502.8M967.0 489.2V504.2M967.7 481.9V492.8M968.3 478.2V488.2M969.0 475.2V485.1M969.6 471.5V482.3M970.3 463.2V473.7M971.0 460.7V474.7M971.6 458.8V471.2M972.3 458.8V465.4M972.9 459.7V468.2M973.6 457.5V467.4M974.3 456.3V468.1M974.9 453.7V471.1M975.6 450.3V463.0M976.2 450.2V467.7M976.9 448.4V456.2M977.6 440.5V454.0M978.2 441.8V452.5M978.9 447.1V460.3M979.5 455.2V468.8M980.2 458.0V472.7M980.9 442.7V464.9M981.5 440.7V451.2M982.2 430.2V448.1M982.8 435.3V441.5M983.5 429.6V437.9M984.2 414.9V433.8M984.8 404.3V423.6M985.5 397.0V415.0M986.1 385.4V407.6M986.8 384.0V399.2M987.5 381.4V391.7M988.1 381.7V395.3M988.8 389.5V402.1M989.4 398.3V408.7M990.1 403.0V412.5M990.8 401.5V406.8M991.4 404.8V409.8M992.1 404.6V410.9M992.7 405.2V414.1M993.4 409.3V415.9M994.1 409.4V417.7M994.7 403.2V414.9M995.4 403.9V411.4M996.0 393.8V408.1M996.7 387.4V398.0M997.4 374.0V389.4M998.0 363.2V380.0M998.7 358.6V370.5M999.3 364.7V383.3M1000.0 375.2V415.0M1000.7 405.6V456.5M1001.3 428.2V448.3M1002.0 403.3V431.2M1002.6 400.6V415.3M1003.3 402.1V412.9M1004.0 401.3V410.9M1004.6 399.1V411.0M1005.3 400.4V413.4M1005.9 407.2V416.7M1006.6 411.7V423.1M1007.3 413.6V427.8M1007.9 422.7V431.1M1008.6 424.1V436.4M1009.2 432.8V443.1M1009.9 437.1V447.1M1010.6 437.8V447.2M1011.2 441.9V448.3M1011.9 432.5V445.5M1012.5 433.4V444.5M1013.2 430.3V442.5M1013.9 431.2V440.0M1014.5 424.3V437.1M1015.2 424.5V445.2M1015.8 433.8V453.8M1016.5 443.0V458.8M1017.2 430.2V450.6M1017.8 419.8V432.1M1018.5 415.7V427.7M1019.1 411.2V424.3M1019.8 413.5V423.3M1020.5 405.5V422.0M1021.1 409.9V418.1M1021.8 411.4V416.7M1022.4 411.9V421.6M1023.1 413.2V419.7M1023.8 417.0V421.0M1024.4 409.9V424.4M1025.1 397.2V415.0M1025.7 386.7V401.4M1026.4 370.8V390.1M1027.1 372.6V381.9M1027.7 377.2V389.4M1028.4 383.3V394.0M1029.0 389.7V397.0M1029.7 390.7V402.7M1030.4 393.2V404.4M1031.0 379.6V395.7M1031.7 378.4V404.5M1032.3 400.1V427.6M1033.0 419.8V424.9M1033.7 418.8V430.9M1034.3 420.2V428.4" stroke="#6c6f77"/>
<path d="M6.7 718.7V713.6M7.4 713.6V710.2M8.0 710.2V701.9M8.7 701.9V693.9M9.3 693.9V692.0M10.0 692.0V684.8M11.3 686.0V684.8M13.3 693.3V688.1M14.0 688.1V681.0M14.6 681.0V674.1M15.9 703.9V701.9M16.6 701.9V696.2M17.9 697.4V693.8M18.6 693.8V688.4M19.2 688.4V685.3M20.6 686.5V683.9M21.2 683.9V679.6M21.9 679.6V677.1M22.5 677.1V675.9M23.9 677.1V669.9M24.5 669.9V664.2M25.2 664.2V657.8M25.8 657.8V655.9M26.5 655.9V652.1M27.2 652.1V647.3M27.8 647.3V639.8M30.5 648.2V644.0M31.1 644.0V638.1M31.8 638.1V635.8M33.1 639.5V634.1M35.1 644.7V642.3M36.4 645.8V642.4M37.1 642.4V632.6M37.7 632.6V620.8M39.0 622.0V612.0M40.4 614.8V613.0M41.7 614.3V612.0M42.3 612.0V610.6M43.0 610.6V608.4M43.7 608.4V604.9M44.3 604.9V603.5M48.3 620.7V617.9M51.6 631.9V627.5M52.2 627.5V626.3M53.6 630.8V625.6M54.2 625.6V624.4M54.9 624.4V623.2M55.5 623.2V621.1M56.2 621.1V618.8M57.5 628.7V627.5M59.5 637.8V635.4M61.5 651.5V636.2M62.1 636.2V612.9M62.8 612.9V611.6M63.5 611.6V602.8M64.1 602.8V600.6M67.4 608.3V607.1M68.1 607.1V605.9M72.7 616.2V613.1M75.3 620.9V619.0M76.0 619.0V597.9M76.7 597.9V584.7M80.0 593.3V591.3M80.6 591.3V584.4M81.3 584.4V582.9M81.9 582.9V578.8M87.2 616.4V613.8M89.2 619.4V618.0M91.2 635.5V622.7M91.8 622.7V607.8M92.5 607.8V604.4M93.8 608.1V606.2M94.5 606.2V605.0M95.1 605.0V599.8M96.5 603.6V602.4M97.1 602.4V601.2M97.8 601.2V600.0M100.4 610.3V606.8M101.7 608.5V600.5M102.4 600.5V599.3M103.7 600.5V599.3M104.4 599.3V598.1M105.0 598.1V591.5M105.7 591.5V583.6M107.0 585.3V581.4M109.0 586.9V584.9M111.0 599.2V590.5M111.6 590.5V574.8M112.3 574.8V570.9M115.6 576.9V567.2M116.3 567.2V565.9M117.6 567.1V557.0M118.2 557.0V551.2M118.9 551.2V537.1M119.6 537.1V530.0M122.2 540.6V536.4M123.5 541.3V540.1M124.2 540.1V538.9M125.5 544.1V541.9M126.2 541.9V536.6M128.1 547.2V546.0M130.8 557.7V553.9M132.1 557.3V551.6M132.8 551.6V547.0M133.4 547.0V539.1M136.7 568.3V563.0M137.4 563.0V553.2M138.0 553.2V549.0M139.4 552.0V546.7M140.0 546.7V541.2M141.3 542.4V533.5M147.3 563.6V561.0M149.9 570.6V550.9M150.6 550.9V539.8M151.2 539.8V536.4M151.9 536.4V535.2M152.6 535.2V531.7M153.9 534.4V532.6M155.2 535.0V531.2M155.9 531.2V527.9M158.5 540.9V536.7M160.5 539.1V537.9M163.1 545.0V541.6M167.1 561.8V557.9M168.4 559.1V557.9M169.1 557.9V552.5M170.4 554.1V551.3M171.0 551.3V543.8M172.4 549.0V538.4M173.7 539.6V534.5M175.0 537.0V532.9M176.3 536.5V533.4M177.6 534.6V532.4M179.0 533.6V527.3M180.3 529.3V522.2M181.6 523.4V522.2M182.9 527.0V523.8M184.2 525.0V519.7M184.9 519.7V511.2M185.6 511.2V507.2M186.2 507.2V501.3M186.9 501.3V491.1M187.5 491.1V489.9M188.2 489.9V484.1M188.9 484.1V476.8M189.5 476.8V470.8M190.2 470.8V465.6M190.8 465.6V457.2M191.5 457.2V454.4M192.2 454.4V453.2M193.5 454.4V447.6M194.1 447.6V445.8M194.8 445.8V438.9M195.5 438.9V436.2M196.1 436.2V429.2M196.8 429.2V424.0M198.1 428.0V426.0M199.4 428.2V427.0M200.1 427.0V417.1M200.7 417.1V408.8M201.4 408.8V401.5M202.1 401.5V397.5M202.7 397.5V395.6M203.4 395.6V394.1M205.4 402.2V398.4M206.0 398.4V395.0M206.7 395.0V393.1M207.3 393.1V385.4M208.0 385.4V382.3M208.7 382.3V380.4M210.0 381.6V376.3M210.6 376.3V366.5M211.3 366.5V362.9M212.0 362.9V354.9M212.6 354.9V351.9M213.3 351.9V335.8M213.9 335.8V324.3M214.6 324.3V306.1M215.3 306.1V296.7M216.6 297.9V294.9M217.2 294.9V292.8M219.9 313.0V293.5M220.5 293.5V246.7M223.8 353.2V317.2M224.5 317.2V284.8M225.2 284.8V279.3M225.8 279.3V276.0M226.5 276.0V266.3M227.1 266.3V265.1M227.8 265.1V260.3M228.5 260.3V257.3M231.1 280.7V265.4M231.8 265.4V254.1M232.4 254.1V248.4M233.1 248.4V236.8M235.7 248.6V247.3M236.4 247.3V241.4M240.3 291.0V287.7M241.0 287.7V273.4M241.7 273.4V272.1M242.3 272.1V267.5M243.6 268.7V261.0M244.3 261.0V247.0M245.0 247.0V243.4M245.6 243.4V229.9M246.3 229.9V223.8M246.9 223.8V218.5M248.9 236.7V235.5M250.2 239.3V238.1M251.6 239.3V236.1M252.9 241.3V237.6M255.5 252.7V246.8M256.2 246.8V237.1M256.8 237.1V234.3M258.8 237.3V234.6M262.1 253.5V223.0M262.8 223.0V202.8M263.4 202.8V186.1M264.1 186.1V171.0M264.8 171.0V161.3M265.4 161.3V145.0M266.1 145.0V129.2M266.7 129.2V126.0M268.1 136.1V125.2M268.7 125.2V120.0M270.0 124.0V110.7M272.0 122.2V118.0M274.0 122.5V113.3M275.3 114.5V113.3M276.0 113.3V100.8M276.6 100.8V93.6M278.0 94.9V79.2M278.6 79.2V67.1M279.3 67.1V63.2M281.9 77.8V75.1M286.5 153.1V145.2M287.2 145.2V132.6M287.9 132.6V131.4M289.2 132.6V126.6M289.8 126.6V120.8M291.2 133.4V111.2M293.1 130.3V129.1M305.0 427.4V387.3M305.7 387.3V341.2M306.3 341.2V312.6M307.0 312.6V289.9M309.0 322.1V314.3M309.6 314.3V299.0M311.0 304.1V302.9M314.3 334.4V310.4M314.9 310.4V280.8M315.6 280.8V268.2M316.2 268.2V263.8M316.9 263.8V262.6M318.2 267.6V266.4M326.1 317.6V303.3M326.8 303.3V297.1M327.5 297.1V287.8M328.1 287.8V279.6M328.8 279.6V268.0M329.4 268.0V251.5M330.1 251.5V212.5M330.8 212.5V210.2M331.4 210.2V205.0M332.1 205.0V203.8M334.1 210.6V205.0M334.7 205.0V195.1M335.4 195.1V187.4M336.0 187.4V175.8M336.7 175.8V173.8M338.7 182.4V181.0M348.6 323.4V308.8M349.2 308.8V296.4M349.9 296.4V284.2M350.6 284.2V281.9M351.9 284.6V280.0M352.5 280.0V274.6M353.9 275.8V271.2M356.5 292.2V291.0M359.8 347.3V340.2M360.5 340.2V319.4M361.1 319.4V313.7M361.8 313.7V304.1M363.1 306.5V301.0M365.7 310.4V309.2M366.4 309.2V283.1M367.1 283.1V270.3M369.0 320.0V313.2M370.4 318.9V312.9M371.7 314.4V311.4M372.3 311.4V309.5M374.3 322.8V320.4M375.0 320.4V313.1M376.3 314.3V312.2M382.2 361.9V355.6M382.9 355.6V308.1M383.6 308.1V295.2M384.9 296.4V290.3M385.5 290.3V287.4M386.2 287.4V286.0M387.5 297.3V296.1M388.2 296.1V288.7M388.8 288.7V282.9M390.8 344.5V335.0M391.5 335.0V317.0M392.1 317.0V313.5M392.8 313.5V311.7M393.5 311.7V310.5M394.1 310.5V307.4M394.8 307.4V301.4M395.4 301.4V286.3M396.1 286.3V269.5M396.8 269.5V258.0M397.4 258.0V251.7M398.1 251.7V241.6M398.7 241.6V238.2M399.4 238.2V236.2M402.7 252.4V250.0M403.4 250.0V245.7M404.0 245.7V244.5M405.3 245.7V239.3M408.0 252.3V231.9M408.6 231.9V224.5M409.3 224.5V216.2M410.0 216.2V211.1M413.3 239.2V236.1M421.8 305.1V303.0M422.5 303.0V301.5M423.2 301.5V296.8M423.8 296.8V293.3M428.4 338.4V326.1M429.1 326.1V312.5M429.8 312.5V306.0M432.4 313.0V311.6M436.4 337.4V320.3M437.0 320.3V312.0M437.7 312.0V310.8M440.3 318.5V317.3M442.3 326.4V325.0M443.0 325.0V323.2M444.9 327.4V323.4M445.6 323.4V320.1M449.6 360.1V323.6M450.2 323.6V308.5M454.8 341.3V331.6M455.5 331.6V308.1M456.2 308.1V294.5M456.8 294.5V289.7M458.1 290.9V289.3M458.8 289.3V282.2M459.5 282.2V281.0M461.4 288.4V286.2M462.1 286.2V273.5M462.8 273.5V269.0M463.4 269.0V260.0M469.4 300.0V298.3M470.0 298.3V292.5M470.7 292.5V279.2M476.0 303.6V301.2M476.6 301.2V288.1M477.3 288.1V280.8M477.9 280.8V279.2M478.6 279.2V266.6M479.3 266.6V264.9M481.9 271.5V262.2M482.6 262.2V260.1M483.2 260.1V252.1M483.9 252.1V250.9M484.5 250.9V249.7M487.8 276.7V274.2M489.2 280.3V279.1M489.8 279.1V276.2M490.5 276.2V267.7M491.1 267.7V261.8M491.8 261.8V254.3M492.5 254.3V250.5M493.1 250.5V245.0M493.8 245.0V243.8M501.0 315.2V305.8M501.7 305.8V301.0M502.4 301.0V288.8M503.0 288.8V287.6M504.3 289.8V288.6M505.0 288.6V287.4M505.7 287.4V285.0M506.3 285.0V283.8M507.0 283.8V276.9M507.6 276.9V268.8M508.3 268.8V262.5M510.9 284.3V282.9M512.3 284.1V277.4M516.9 390.6V360.1M517.5 360.1V351.4M518.2 351.4V343.1M518.9 343.1V341.9M524.8 372.4V370.4M531.4 435.2V434.0M537.3 466.4V462.4M538.0 462.4V452.4M538.7 452.4V440.1M539.3 440.1V425.9M540.0 425.9V422.7M542.6 436.3V433.2M543.3 433.2V426.4M545.9 455.7V447.7M546.6 447.7V443.4M547.2 443.4V436.0M547.9 436.0V433.5M549.2 441.7V440.5M551.9 459.2V458.0M552.5 458.0V439.5M553.2 439.5V428.8M553.8 428.8V420.5M554.5 420.5V416.9M555.2 416.9V415.1M555.8 415.1V404.8M559.1 416.8V406.7M559.8 406.7V403.4M560.4 403.4V396.2M561.1 396.2V392.1M561.8 392.1V383.7M562.4 383.7V381.1M567.0 402.7V399.2M567.7 399.2V387.3M568.4 387.3V368.9M571.0 396.4V392.4M571.7 392.4V387.1M572.3 387.1V384.0M573.0 384.0V375.7M574.3 376.9V367.8M575.0 367.8V362.4M575.6 362.4V358.0M580.2 388.3V377.4M580.9 377.4V349.8M581.6 349.8V348.6M589.5 394.5V384.0M590.1 384.0V364.1M590.8 364.1V351.9M591.5 351.9V343.3M592.8 344.5V342.6M595.4 355.2V354.0M596.7 356.1V352.3M597.4 352.3V349.3M598.1 349.3V339.8M602.0 423.9V417.8M602.7 417.8V411.0M603.3 411.0V399.8M604.0 399.8V385.7M606.6 398.9V397.2M608.0 400.6V394.8M608.6 394.8V393.5M609.3 393.5V391.9M610.6 394.0V392.8M611.3 392.8V391.2M611.9 391.2V384.0M613.2 385.9V382.9M615.2 407.9V391.0M615.9 391.0V380.9M616.5 380.9V366.3M617.2 366.3V359.0M617.9 359.0V352.5M618.5 352.5V348.3M619.2 348.3V339.1M619.8 339.1V336.1M620.5 336.1V330.8M621.2 330.8V324.3M621.8 324.3V321.1M622.5 321.1V317.5M623.1 317.5V316.3M627.1 327.0V325.3M628.4 329.0V327.3M629.1 327.3V326.0M629.7 326.0V324.8M631.1 330.9V329.7M633.7 350.9V338.8M634.4 338.8V334.0M639.6 403.9V399.8M640.3 399.8V388.8M641.0 388.8V380.5M641.6 380.5V379.1M642.3 379.1V370.2M642.9 370.2V358.9M643.6 358.9V348.1M648.2 384.8V380.1M649.5 389.1V387.5M650.9 388.7V374.0M651.5 374.0V368.4M652.2 368.4V363.7M652.8 363.7V361.1M654.2 363.2V357.7M654.8 357.7V355.8M656.8 358.6V356.4M661.4 374.0V371.0M662.7 372.5V369.6M663.4 369.6V360.2M664.1 360.2V347.4M666.7 364.3V363.1M670.0 378.7V377.1M670.7 377.1V375.5M671.3 375.5V366.6M672.6 369.5V368.1M673.3 368.1V362.1M674.6 366.9V360.3M675.3 360.3V354.3M675.9 354.3V349.0M676.6 349.0V345.5M677.3 345.5V340.6M678.6 341.8V330.4M679.9 332.4V328.9M680.6 328.9V322.8M681.2 322.8V321.6M683.9 334.1V332.9M686.5 351.3V345.5M687.2 345.5V340.0M690.5 382.7V374.4M691.1 374.4V370.3M691.8 370.3V368.5M692.4 368.5V362.2M693.1 362.2V359.3M694.4 363.2V350.7M695.1 350.7V349.5M699.7 386.6V382.7M700.4 382.7V375.8M701.0 375.8V370.7M701.7 370.7V365.4M704.3 371.5V370.3M705.0 370.3V368.3M705.6 368.3V364.9M706.3 364.9V356.8M707.6 358.1V356.9M708.3 356.9V355.2M710.3 373.4V367.5M710.9 367.5V361.4M711.6 361.4V355.9M713.6 359.8V358.6M714.2 358.6V355.5M714.9 355.5V354.3M720.2 425.4V419.1M720.8 419.1V405.4M721.5 405.4V404.2M722.8 410.0V408.8M723.5 408.8V402.9M726.8 442.1V437.4M727.4 437.4V434.3M728.1 434.3V430.0M728.7 430.0V428.4M730.1 438.5V428.9M730.7 428.9V420.8M731.4 420.8V413.0M732.0 413.0V407.1M732.7 407.1V395.7M734.7 409.2V407.3M735.3 407.3V406.1M736.7 408.6V407.4M737.3 407.4V400.7M738.0 400.7V396.0M738.6 396.0V393.6M739.3 393.6V389.9M740.0 389.9V388.7M740.6 388.7V386.3M741.9 389.6V386.7M742.6 386.7V384.3M743.3 384.3V382.4M743.9 382.4V379.1M746.6 391.8V378.1M747.2 378.1V375.1M747.9 375.1V366.1M748.5 366.1V363.9M749.2 363.9V360.2M750.5 363.8V358.9M751.2 358.9V348.1M752.5 389.9V387.8M753.2 387.8V379.2M754.5 391.1V385.4M755.1 385.4V366.8M755.8 366.8V359.8M757.8 377.0V375.4M758.4 375.4V374.2M759.1 374.2V365.8M759.8 365.8V361.7M760.4 361.7V360.5M761.1 360.5V353.6M761.7 353.6V347.2M762.4 347.2V338.4M763.1 338.4V328.7M763.7 328.7V316.8M764.4 316.8V296.9M765.0 296.9V288.3M767.0 294.2V293.0M768.3 301.5V297.4M769.0 297.4V295.2M769.7 295.2V283.3M770.3 283.3V267.1M772.3 269.9V266.8M773.6 273.1V271.6M774.3 271.6V266.4M774.9 266.4V258.5M779.6 451.8V448.6M780.2 448.6V432.6M780.9 432.6V419.5M781.5 419.5V415.6M782.2 415.6V405.9M782.9 405.9V403.5M783.5 403.5V396.1M784.2 396.1V394.9M786.2 416.6V414.5M786.8 414.5V412.6M787.5 412.6V411.4M788.8 416.3V412.7M792.1 431.6V430.4M794.1 452.2V448.3M794.7 448.3V439.9M795.4 439.9V432.6M797.4 438.2V423.9M798.0 423.9V420.4M798.7 420.4V415.9M799.4 415.9V412.7M800.0 412.7V411.5M800.7 411.5V407.3M801.3 407.3V405.4M802.0 405.4V400.1M805.3 416.2V414.2M806.0 414.2V412.9M806.6 412.9V402.4M807.3 402.4V400.8M807.9 400.8V392.5M808.6 392.5V390.1M809.3 390.1V380.1M811.9 390.5V389.2M812.6 389.2V384.0M813.2 384.0V382.1M815.9 396.0V392.4M816.5 392.4V390.9M817.8 396.8V391.3M818.5 391.3V389.4M819.2 389.4V388.2M819.8 388.2V381.4M826.4 407.1V404.5M827.1 404.5V403.3M828.4 408.6V406.9M829.7 413.6V412.4M830.4 412.4V408.7M831.0 408.7V401.5M837.6 453.6V449.2M838.3 449.2V448.0M839.0 448.0V444.8M839.6 444.8V443.2M840.3 443.2V442.0M841.6 443.2V436.9M842.3 436.9V435.7M842.9 435.7V430.3M843.6 430.3V423.2M844.2 423.2V416.9M844.9 416.9V412.3M847.5 429.1V426.7M848.2 426.7V425.1M848.9 425.1V423.9M850.2 429.5V425.6M851.5 431.0V429.8M858.8 524.5V523.3M862.1 551.9V545.6M863.4 548.0V546.4M864.7 547.6V539.5M865.4 539.5V538.3M866.0 538.3V537.1M866.7 537.1V530.6M867.3 530.6V529.4M868.7 536.4V535.2M870.6 543.9V535.5M871.3 535.5V533.9M872.6 535.1V527.7M873.3 527.7V525.6M873.9 525.6V524.1M876.6 537.1V535.9M877.2 535.9V534.7M878.6 541.9V537.5M886.5 618.2V616.8M887.1 616.8V615.4M887.8 615.4V612.6M888.5 612.6V609.6M889.1 609.6V601.2M889.8 601.2V599.5M891.1 601.0V596.9M891.8 596.9V589.4M892.4 589.4V586.3M893.1 586.3V584.1M893.7 584.1V573.2M894.4 573.2V562.1M895.1 562.1V549.1M895.7 549.1V543.3M896.4 543.3V540.4M897.0 540.4V535.1M897.7 535.1V530.8M899.0 532.0V524.1M901.0 535.7V530.8M901.7 530.8V527.9M902.3 527.9V522.7M903.0 522.7V514.6M903.6 514.6V509.4M904.3 509.4V504.5M905.6 506.8V503.6M906.3 503.6V499.4M906.9 499.4V496.4M907.6 496.4V493.3M908.3 493.3V488.5M908.9 488.5V487.3M909.6 487.3V483.0M910.9 484.2V475.1M913.5 491.3V487.8M914.2 487.8V481.9M915.5 483.1V479.8M916.2 479.8V478.6M920.1 494.1V491.0M921.5 495.8V492.9M922.1 492.9V487.3M924.8 514.1V509.7M925.4 509.7V503.1M926.1 503.1V477.9M926.7 477.9V443.9M927.4 443.9V435.1M928.1 435.1V429.5M930.7 440.3V439.1M931.4 439.1V437.3M932.0 437.3V431.4M932.7 431.4V426.0M933.3 426.0V424.8M934.0 424.8V420.7M936.0 435.5V433.2M937.3 436.5V432.8M941.3 461.9V460.7M943.9 508.0V502.9M944.6 502.9V498.3M945.2 498.3V485.9M945.9 485.9V480.2M949.2 495.0V493.3M951.2 498.3V492.7M951.8 492.7V491.4M952.5 491.4V490.0M955.8 515.5V503.5M956.4 503.5V495.7M957.1 495.7V486.3M958.4 488.7V485.2M963.7 517.0V508.9M965.0 510.1V503.5M965.7 503.5V501.9M966.3 501.9V500.7M967.0 500.7V489.6M967.7 489.6V487.5M968.3 487.5V478.8M969.6 480.0V471.8M970.3 471.8V463.8M971.6 466.6V461.6M972.3 461.6V460.4M974.9 466.3V459.4M975.6 459.4V458.2M976.2 458.2V455.3M976.9 455.3V453.8M977.6 453.8V445.2M980.2 466.9V464.6M980.9 464.6V443.6M981.5 443.6V442.4M982.2 442.4V438.3M982.8 438.3V435.7M983.5 435.7V430.9M984.2 430.9V415.0M984.8 415.0V406.6M985.5 406.6V399.0M986.1 399.0V393.8M986.8 393.8V384.6M987.5 384.6V383.4M990.1 407.2V406.0M990.8 406.0V404.8M992.1 407.9V405.8M994.7 413.0V406.3M995.4 406.3V404.9M996.0 404.9V395.4M996.7 395.4V388.7M997.4 388.7V376.7M998.0 376.7V368.0M998.7 368.0V365.8M1001.3 443.8V429.4M1002.0 429.4V410.6M1002.6 410.6V405.9M1004.0 407.5V403.7M1004.6 403.7V401.6M1011.2 447.1V442.9M1011.9 442.9V439.3M1012.5 439.3V433.7M1013.9 436.2V431.5M1014.5 431.5V426.3M1016.5 451.6V444.7M1017.2 444.7V431.2M1017.8 431.2V421.8M1018.5 421.8V420.0M1019.1 420.0V418.0M1019.8 418.0V416.7M1020.5 416.7V414.5M1021.1 414.5V413.1M1023.1 418.3V417.1M1024.4 419.9V410.1M1025.1 410.1V398.1M1025.7 398.1V387.1M1026.4 387.1V376.9M1030.4 399.3V395.2M1031.0 395.2V380.5M1033.0 423.8V422.6M1034.3 426.6V422.5" stroke="#238f86"/>
<path d="M10.7 684.8V686.0M12.0 684.8V689.1M12.6 689.1V693.3M15.3 674.1V703.9M17.3 696.2V697.4M19.9 685.3V686.5M23.2 675.9V677.1M28.5 639.8V641.3M29.1 641.3V645.8M29.8 645.8V648.2M32.4 635.8V639.5M33.8 634.1V638.5M34.4 638.5V644.7M35.7 642.3V645.8M38.4 620.8V622.0M39.7 612.0V614.8M41.0 613.0V614.3M45.0 603.5V604.7M45.6 604.7V607.7M46.3 607.7V613.1M47.0 613.1V615.9M47.6 615.9V620.7M48.9 617.9V621.8M49.6 621.8V624.3M50.3 624.3V630.7M50.9 630.7V631.9M52.9 626.3V630.8M56.9 618.8V628.7M58.2 627.5V634.4M58.8 634.4V637.8M60.2 635.4V646.2M60.8 646.2V651.5M64.8 600.6V601.8M65.4 601.8V605.9M66.1 605.9V607.1M66.8 607.1V608.3M68.7 605.9V607.4M69.4 607.4V610.0M70.1 610.0V611.8M70.7 611.8V613.2M71.4 613.2V614.6M72.0 614.6V616.2M73.4 613.1V618.1M74.0 618.1V619.3M74.7 619.3V620.9M77.3 584.7V588.0M78.0 588.0V589.2M78.6 589.2V592.1M79.3 592.1V593.3M82.6 578.8V590.7M83.3 590.7V600.2M83.9 600.2V606.4M84.6 606.4V610.1M85.2 610.1V612.6M85.9 612.6V613.8M86.6 613.8V616.4M87.9 613.8V618.2M88.5 618.2V619.4M89.9 618.0V627.4M90.5 627.4V635.5M93.2 604.4V608.1M95.8 599.8V603.6M98.4 600.0V606.5M99.1 606.5V609.1M99.8 609.1V610.3M101.1 606.8V608.5M103.1 599.3V600.5M106.4 583.6V585.3M107.7 581.4V584.1M108.3 584.1V586.9M109.7 584.9V591.7M110.3 591.7V599.2M113.0 570.9V572.6M113.6 572.6V574.1M114.3 574.1V575.7M114.9 575.7V576.9M116.9 565.9V567.1M120.2 530.0V531.2M120.9 531.2V537.5M121.5 537.5V540.6M122.9 536.4V541.3M124.8 538.9V544.1M126.8 536.6V542.0M127.5 542.0V547.2M128.8 546.0V551.1M129.5 551.1V555.0M130.1 555.0V557.7M131.4 553.9V557.3M134.1 539.1V548.6M134.7 548.6V560.3M135.4 560.3V566.5M136.1 566.5V568.3M138.7 549.0V552.0M140.7 541.2V542.4M142.0 533.5V535.5M142.7 535.5V536.7M143.3 536.7V539.5M144.0 539.5V546.2M144.6 546.2V551.0M145.3 551.0V555.1M146.0 555.1V556.3M146.6 556.3V563.6M147.9 561.0V565.2M148.6 565.2V566.4M149.3 566.4V570.6M153.2 531.7V534.4M154.5 532.6V535.0M156.5 527.9V530.0M157.2 530.0V536.9M157.8 536.9V540.9M159.2 536.7V537.9M159.8 537.9V539.1M161.1 537.9V539.9M161.8 539.9V543.8M162.5 543.8V545.0M163.8 541.6V550.9M164.4 550.9V552.1M165.1 552.1V558.2M165.8 558.2V560.3M166.4 560.3V561.8M167.7 557.9V559.1M169.7 552.5V554.1M171.7 543.8V549.0M173.0 538.4V539.6M174.3 534.5V537.0M175.7 532.9V536.5M177.0 533.4V534.6M178.3 532.4V533.6M179.6 527.3V529.3M180.9 522.2V523.4M182.3 522.2V527.0M183.6 523.8V525.0M192.8 453.2V454.4M197.4 424.0V428.0M198.8 426.0V428.2M204.0 394.1V398.9M204.7 398.9V402.2M209.3 380.4V381.6M215.9 296.7V297.9M217.9 292.8V302.7M218.6 302.7V306.2M219.2 306.2V313.0M221.2 246.7V250.3M221.9 250.3V275.6M222.5 275.6V299.3M223.2 299.3V353.2M229.1 257.3V269.0M229.8 269.0V276.3M230.4 276.3V280.7M233.7 236.8V240.8M234.4 240.8V244.2M235.1 244.2V248.6M237.0 241.4V255.6M237.7 255.6V260.1M238.4 260.1V276.4M239.0 276.4V281.7M239.7 281.7V291.0M243.0 267.5V268.7M247.6 218.5V224.0M248.3 224.0V236.7M249.6 235.5V239.3M250.9 238.1V239.3M252.2 236.1V241.3M253.5 237.6V240.4M254.2 240.4V251.5M254.9 251.5V252.7M257.5 234.3V235.8M258.2 235.8V237.3M259.5 234.6V235.8M260.1 235.8V241.4M260.8 241.4V249.9M261.5 249.9V253.5M267.4 126.0V136.1M269.4 120.0V124.0M270.7 110.7V111.9M271.4 111.9V122.2M272.7 118.0V119.2M273.3 119.2V122.5M274.7 113.3V114.5M277.3 93.6V94.9M279.9 63.2V66.9M280.6 66.9V73.4M281.3 73.4V77.8M282.6 75.1V79.8M283.2 79.8V90.6M283.9 90.6V95.6M284.6 95.6V114.4M285.2 114.4V139.6M285.9 139.6V153.1M288.5 131.4V132.6M290.5 120.8V133.4M291.8 111.2V124.4M292.5 124.4V130.3M293.8 129.1V136.6M294.5 136.6V141.2M295.1 141.2V143.9M295.8 143.9V146.4M296.4 146.4V157.5M297.1 157.5V173.9M297.8 173.9V192.0M298.4 192.0V213.7M299.1 213.7V236.9M299.7 236.9V258.1M300.4 258.1V274.8M301.1 274.8V291.2M301.7 291.2V324.0M302.4 324.0V344.0M303.0 344.0V364.1M303.7 364.1V409.1M304.4 409.1V427.4M307.7 289.9V303.0M308.3 303.0V322.1M310.3 299.0V304.1M311.6 302.9V314.0M312.3 314.0V328.1M312.9 328.1V332.3M313.6 332.3V334.4M317.6 262.6V267.6M318.9 266.4V270.6M319.5 270.6V279.1M320.2 279.1V281.6M320.9 281.6V287.1M321.5 287.1V289.4M322.2 289.4V295.6M322.8 295.6V298.2M323.5 298.2V300.2M324.2 300.2V308.2M324.8 308.2V316.4M325.5 316.4V317.6M332.7 203.8V207.3M333.4 207.3V210.6M337.4 173.8V175.1M338.0 175.1V182.4M339.3 181.0V183.8M340.0 183.8V186.8M340.7 186.8V188.5M341.3 188.5V194.3M342.0 194.3V195.5M342.6 195.5V199.9M343.3 199.9V204.3M344.0 204.3V210.7M344.6 210.7V218.1M345.3 218.1V241.6M345.9 241.6V257.2M346.6 257.2V274.5M347.3 274.5V295.8M347.9 295.8V323.4M351.2 281.9V284.6M353.2 274.6V275.8M354.5 271.2V277.2M355.2 277.2V284.0M355.8 284.0V292.2M357.2 291.0V296.8M357.8 296.8V303.1M358.5 303.1V321.6M359.1 321.6V347.3M362.4 304.1V306.5M363.8 301.0V302.3M364.4 302.3V306.4M365.1 306.4V310.4M367.7 270.3V297.3M368.4 297.3V320.0M369.7 313.2V318.9M371.0 312.9V314.4M373.0 309.5V321.3M373.7 321.3V322.8M375.6 313.1V314.3M377.0 312.2V320.5M377.6 320.5V324.6M378.3 324.6V326.8M378.9 326.8V330.6M379.6 330.6V336.0M380.3 336.0V343.0M380.9 343.0V350.0M381.6 350.0V361.9M384.2 295.2V296.4M386.9 286.0V297.3M389.5 282.9V308.9M390.2 308.9V344.5M400.1 236.2V239.2M400.7 239.2V246.9M401.4 246.9V251.2M402.0 251.2V252.4M404.7 244.5V245.7M406.0 239.3V248.7M406.7 248.7V251.1M407.3 251.1V252.3M410.6 211.1V219.3M411.3 219.3V228.8M411.9 228.8V233.5M412.6 233.5V239.2M413.9 236.1V240.8M414.6 240.8V244.7M415.2 244.7V248.3M415.9 248.3V250.7M416.6 250.7V257.4M417.2 257.4V258.6M417.9 258.6V259.8M418.5 259.8V269.7M419.2 269.7V274.3M419.9 274.3V284.1M420.5 284.1V291.7M421.2 291.7V305.1M424.5 293.3V295.5M425.1 295.5V306.7M425.8 306.7V316.1M426.5 316.1V323.3M427.1 323.3V332.1M427.8 332.1V338.4M430.4 306.0V309.4M431.1 309.4V310.6M431.7 310.6V313.0M433.1 311.6V313.5M433.7 313.5V319.7M434.4 319.7V331.2M435.0 331.2V334.9M435.7 334.9V337.4M438.3 310.8V312.0M439.0 312.0V317.3M439.7 317.3V318.5M441.0 317.3V323.8M441.6 323.8V326.4M443.6 323.2V326.2M444.3 326.2V327.4M446.3 320.1V321.3M446.9 321.3V322.5M447.6 322.5V326.2M448.2 326.2V342.3M448.9 342.3V360.1M450.9 308.5V316.8M451.5 316.8V325.4M452.2 325.4V327.2M452.9 327.2V331.8M453.5 331.8V335.3M454.2 335.3V341.3M457.5 289.7V290.9M460.1 281.0V285.5M460.8 285.5V288.4M464.1 260.0V270.8M464.7 270.8V277.1M465.4 277.1V285.7M466.1 285.7V288.6M466.7 288.6V294.9M467.4 294.9V297.0M468.0 297.0V298.8M468.7 298.8V300.0M471.3 279.2V281.6M472.0 281.6V282.8M472.7 282.8V290.9M473.3 290.9V295.7M474.0 295.7V300.8M474.6 300.8V302.0M475.3 302.0V303.6M479.9 264.9V266.1M480.6 266.1V269.8M481.2 269.8V271.5M485.2 249.7V254.1M485.9 254.1V270.0M486.5 270.0V274.0M487.2 274.0V276.7M488.5 274.2V280.3M494.4 243.8V258.3M495.1 258.3V262.8M495.8 262.8V269.2M496.4 269.2V271.6M497.1 271.6V282.3M497.7 282.3V294.1M498.4 294.1V301.9M499.1 301.9V304.1M499.7 304.1V308.6M500.4 308.6V315.2M503.7 287.6V289.8M509.0 262.5V266.6M509.6 266.6V276.1M510.3 276.1V284.3M511.6 282.9V284.1M512.9 277.4V286.5M513.6 286.5V293.3M514.2 293.3V300.0M514.9 300.0V339.5M515.6 339.5V383.9M516.2 383.9V390.6M519.5 341.9V343.4M520.2 343.4V350.4M520.8 350.4V355.4M521.5 355.4V361.4M522.2 361.4V363.7M522.8 363.7V365.0M523.5 365.0V368.4M524.1 368.4V372.4M525.5 370.4V371.6M526.1 371.6V372.8M526.8 372.8V378.7M527.4 378.7V387.2M528.1 387.2V397.1M528.8 397.1V409.7M529.4 409.7V424.2M530.1 424.2V429.6M530.7 429.6V435.2M532.1 434.0V438.0M532.7 438.0V449.4M533.4 449.4V450.6M534.0 450.6V452.6M534.7 452.6V462.0M535.4 462.0V463.3M536.0 463.3V465.1M536.7 465.1V466.4M540.6 422.7V426.9M541.3 426.9V434.1M542.0 434.1V436.3M543.9 426.4V441.4M544.6 441.4V449.1M545.3 449.1V455.7M548.6 433.5V441.7M549.9 440.5V446.9M550.5 446.9V455.4M551.2 455.4V459.2M556.5 404.8V406.0M557.1 406.0V409.0M557.8 409.0V411.6M558.5 411.6V416.8M563.1 381.1V382.3M563.7 382.3V385.2M564.4 385.2V393.4M565.1 393.4V394.6M565.7 394.6V400.0M566.4 400.0V402.7M569.0 368.9V380.8M569.7 380.8V385.5M570.3 385.5V396.4M573.6 375.7V376.9M576.3 358.0V359.2M576.9 359.2V360.9M577.6 360.9V365.8M578.3 365.8V372.9M578.9 372.9V377.0M579.6 377.0V388.3M582.2 348.6V351.5M582.9 351.5V356.1M583.5 356.1V358.3M584.2 358.3V367.1M584.9 367.1V369.6M585.5 369.6V372.2M586.2 372.2V375.8M586.8 375.8V377.0M587.5 377.0V378.4M588.2 378.4V387.4M588.8 387.4V394.5M592.1 343.3V344.5M593.4 342.6V346.0M594.1 346.0V349.2M594.8 349.2V355.2M596.1 354.0V356.1M598.7 339.8V359.6M599.4 359.6V379.2M600.0 379.2V408.0M600.7 408.0V422.2M601.4 422.2V423.9M604.7 385.7V391.0M605.3 391.0V394.6M606.0 394.6V398.9M607.3 397.2V400.6M609.9 391.9V394.0M612.6 384.0V385.9M613.9 382.9V397.7M614.6 397.7V407.9M623.8 316.3V317.6M624.5 317.6V319.0M625.1 319.0V322.0M625.8 322.0V324.1M626.4 324.1V327.0M627.8 325.3V329.0M630.4 324.8V330.9M631.7 329.7V337.5M632.4 337.5V348.7M633.0 348.7V350.9M635.0 334.0V353.9M635.7 353.9V372.0M636.3 372.0V387.2M637.0 387.2V396.5M637.7 396.5V400.9M638.3 400.9V402.1M639.0 402.1V403.9M644.3 348.1V362.9M644.9 362.9V368.5M645.6 368.5V373.0M646.2 373.0V375.1M646.9 375.1V378.2M647.6 378.2V384.8M648.9 380.1V389.1M650.2 387.5V388.7M653.5 361.1V363.2M655.5 355.8V357.3M656.1 357.3V358.6M657.5 356.4V358.8M658.1 358.8V362.4M658.8 362.4V365.5M659.4 365.5V370.8M660.1 370.8V372.8M660.8 372.8V374.0M662.1 371.0V372.5M664.7 347.4V351.6M665.4 351.6V361.9M666.0 361.9V364.3M667.4 363.1V371.0M668.0 371.0V373.9M668.7 373.9V377.5M669.3 377.5V378.7M672.0 366.6V369.5M674.0 362.1V366.9M677.9 340.6V341.8M679.2 330.4V332.4M681.9 321.6V324.8M682.5 324.8V330.1M683.2 330.1V334.1M684.5 332.9V341.0M685.2 341.0V350.1M685.8 350.1V351.3M687.8 340.0V352.1M688.5 352.1V361.3M689.1 361.3V375.2M689.8 375.2V382.7M693.8 359.3V363.2M695.7 349.5V361.8M696.4 361.8V363.0M697.1 363.0V369.0M697.7 369.0V376.9M698.4 376.9V380.6M699.0 380.6V386.6M702.3 365.4V366.6M703.0 366.6V370.3M703.7 370.3V371.5M707.0 356.8V358.1M708.9 355.2V362.7M709.6 362.7V373.4M712.2 355.9V358.6M712.9 358.6V359.8M715.5 354.3V362.5M716.2 362.5V366.7M716.9 366.7V378.8M717.5 378.8V382.5M718.2 382.5V409.7M718.8 409.7V419.6M719.5 419.6V425.4M722.1 404.2V410.0M724.1 402.9V406.7M724.8 406.7V427.7M725.4 427.7V440.9M726.1 440.9V442.1M729.4 428.4V438.5M733.4 395.7V398.6M734.0 398.6V409.2M736.0 406.1V408.6M741.3 386.3V389.6M744.6 379.1V383.1M745.2 383.1V390.2M745.9 390.2V391.8M749.9 360.2V363.8M751.8 348.1V389.9M753.8 379.2V391.1M756.5 359.8V370.2M757.1 370.2V377.0M765.7 288.3V289.5M766.4 289.5V294.2M767.7 293.0V301.5M771.0 267.1V268.6M771.6 268.6V269.9M773.0 266.8V273.1M775.6 258.5V262.7M776.3 262.7V267.8M776.9 267.8V296.3M777.6 296.3V372.0M778.2 372.0V437.5M778.9 437.5V451.8M784.8 394.9V409.9M785.5 409.9V416.6M788.1 411.4V416.3M789.5 412.7V415.4M790.1 415.4V419.5M790.8 419.5V423.2M791.4 423.2V431.6M792.8 430.4V442.7M793.4 442.7V452.2M796.1 432.6V437.0M796.7 437.0V438.2M802.7 400.1V401.9M803.3 401.9V409.4M804.0 409.4V411.7M804.6 411.7V416.2M809.9 380.1V383.6M810.6 383.6V385.7M811.2 385.7V390.5M813.9 382.1V383.3M814.5 383.3V386.9M815.2 386.9V396.0M817.2 390.9V396.8M820.5 381.4V384.8M821.1 384.8V391.5M821.8 391.5V392.7M822.5 392.7V393.9M823.1 393.9V400.1M823.8 400.1V401.3M824.4 401.3V403.2M825.1 403.2V405.9M825.8 405.9V407.1M827.7 403.3V408.6M829.1 406.9V413.6M831.7 401.5V405.5M832.4 405.5V418.9M833.0 418.9V425.4M833.7 425.4V436.7M834.3 436.7V443.9M835.0 443.9V445.8M835.7 445.8V449.9M836.3 449.9V452.4M837.0 452.4V453.6M840.9 442.0V443.2M845.6 412.3V415.1M846.2 415.1V419.6M846.9 419.6V429.1M849.5 423.9V429.5M850.8 425.6V431.0M852.2 429.8V436.8M852.8 436.8V447.6M853.5 447.6V461.2M854.1 461.2V485.2M854.8 485.2V486.4M855.5 486.4V490.5M856.1 490.5V497.0M856.8 497.0V501.9M857.4 501.9V511.7M858.1 511.7V524.5M859.4 523.3V530.6M860.1 530.6V535.7M860.7 535.7V544.8M861.4 544.8V551.9M862.7 545.6V548.0M864.0 546.4V547.6M868.0 529.4V536.4M869.3 535.2V541.3M870.0 541.3V543.9M872.0 533.9V535.1M874.6 524.1V527.0M875.3 527.0V531.9M875.9 531.9V537.1M877.9 534.7V541.9M879.2 537.5V538.7M879.9 538.7V543.4M880.5 543.4V550.6M881.2 550.6V553.5M881.9 553.5V582.9M882.5 582.9V590.4M883.2 590.4V600.3M883.8 600.3V605.2M884.5 605.2V609.7M885.2 609.7V615.8M885.8 615.8V618.2M890.4 599.5V601.0M898.4 530.8V532.0M899.7 524.1V529.4M900.3 529.4V535.7M905.0 504.5V506.8M910.2 483.0V484.2M911.6 475.1V477.5M912.2 477.5V483.7M912.9 483.7V491.3M914.9 481.9V483.1M916.8 478.6V480.0M917.5 480.0V484.9M918.2 484.9V487.1M918.8 487.1V490.7M919.5 490.7V494.1M920.8 491.0V495.8M922.8 487.3V488.5M923.4 488.5V497.6M924.1 497.6V514.1M928.7 429.5V430.7M929.4 430.7V433.0M930.0 433.0V440.3M934.7 420.7V426.8M935.3 426.8V435.5M936.6 433.2V436.5M938.0 432.8V437.8M938.6 437.8V446.8M939.3 446.8V448.4M939.9 448.4V452.7M940.6 452.7V461.9M941.9 460.7V470.3M942.6 470.3V485.1M943.2 485.1V508.0M946.5 480.2V487.8M947.2 487.8V491.1M947.9 491.1V492.5M948.5 492.5V495.0M949.8 493.3V496.5M950.5 496.5V498.3M953.1 490.0V491.4M953.8 491.4V494.7M954.5 494.7V499.6M955.1 499.6V515.5M957.8 486.3V488.7M959.1 485.2V486.4M959.7 486.4V489.2M960.4 489.2V493.8M961.1 493.8V496.8M961.7 496.8V505.6M962.4 505.6V515.8M963.0 515.8V517.0M964.4 508.9V510.1M969.0 478.8V480.0M971.0 463.8V466.6M972.9 460.4V463.4M973.6 463.4V464.6M974.3 464.6V466.3M978.2 445.2V447.6M978.9 447.6V455.7M979.5 455.7V466.9M988.1 383.4V392.7M988.8 392.7V402.1M989.4 402.1V407.2M991.4 404.8V407.9M992.7 405.8V409.8M993.4 409.8V411.8M994.1 411.8V413.0M999.3 365.8V378.9M1000.0 378.9V410.0M1000.7 410.0V443.8M1003.3 405.9V407.5M1005.3 401.6V409.5M1005.9 409.5V413.4M1006.6 413.4V420.6M1007.3 420.6V424.0M1007.9 424.0V427.4M1008.6 427.4V434.7M1009.2 434.7V440.8M1009.9 440.8V444.9M1010.6 444.9V447.1M1013.2 433.7V436.2M1015.2 426.3V434.5M1015.8 434.5V451.6M1021.8 413.1V414.3M1022.4 414.3V418.3M1023.8 417.1V419.9M1027.1 376.9V381.0M1027.7 381.0V387.4M1028.4 387.4V392.6M1029.0 392.6V396.4M1029.7 396.4V399.3M1031.7 380.5V400.7M1032.3 400.7V423.8M1033.7 422.6V426.6" stroke="#d94a46"/></g>
<line x1="8" y1="414.5" x2="1392" y2="414.5" stroke="#4a4a4a" stroke-width="1" stroke-dasharray="1,2"/>
</g>
<text x="18.8" y="74.3" font-size="19.5" fill="#42454e" textLength="203.2" lengthAdjust="spacingAndGlyphs" stroke="#42454e" stroke-width=".3">Gold Spot / U.S. Dollar</text>
<text x="231.3" y="74.3" font-size="19.5" fill="#9a9da6" text-anchor="middle">·</text>
<text x="240" y="74.3" font-size="19.5" fill="#42454e" textLength="19.4" lengthAdjust="spacingAndGlyphs" stroke="#42454e" stroke-width=".3">2h</text>
<text x="265.6" y="74.3" font-size="19.5" fill="#9a9da6" text-anchor="middle">·</text>
<text x="276" y="74.3" font-size="19.5" fill="#42454e" textLength="61.6" lengthAdjust="spacingAndGlyphs" stroke="#42454e" stroke-width=".3">OANDA</text>
<path d="M367 57h13.600v19.600h-13.600a9.800 9.800 0 0 1 0-19.600z" fill="#d9f4ee"/>
<path d="M380.600 57h15a9.800 9.800 0 0 1 0 19.600h-15z" fill="#f9c2d6"/>
<circle cx="369.500" cy="66.500" r="4.600" fill="#1f9c8c"/>
<text x="386.5" y="71.5" font-size="16" fill="#d4286d" font-weight="bold" textLength="11.5" lengthAdjust="spacingAndGlyphs">≈</text>
<text x="426.5" y="73.5" font-size="15.3" textLength="59" lengthAdjust="spacingAndGlyphs"><tspan fill="#5a5d66">O</tspan><tspan fill="#2a9a8e">1876.9</tspan></text>
<text x="495" y="73.5" font-size="15.3" textLength="58.5" lengthAdjust="spacingAndGlyphs"><tspan fill="#5a5d66">H</tspan><tspan fill="#2a9a8e">1880.1</tspan></text>
<text x="562.5" y="73.5" font-size="15.3" textLength="56.5" lengthAdjust="spacingAndGlyphs"><tspan fill="#5a5d66">L</tspan><tspan fill="#2a9a8e">1876.5</tspan></text>
<text x="629" y="73.5" font-size="15.3" textLength="57.5" lengthAdjust="spacingAndGlyphs"><tspan fill="#5a5d66">C</tspan><tspan fill="#2a9a8e">1878.4</tspan></text>
<text x="695" y="73.5" font-size="15.3" fill="#2a9a8e" textLength="30" lengthAdjust="spacingAndGlyphs">+1.5</text>
<text x="732" y="73.5" font-size="15.3" fill="#2a9a8e" textLength="61" lengthAdjust="spacingAndGlyphs">(+0.08%)</text>
<rect x="17.5" y="87.5" width="84" height="29" rx="4" fill="#fff" stroke="#c77" stroke-width="1"/>
<text x="59.5" y="107.2" font-size="15.3" fill="#d0605e" text-anchor="middle" textLength="64" lengthAdjust="spacingAndGlyphs">1878.133</text>
<text x="112" y="107.2" font-size="15.3" fill="#50535e" textLength="29" lengthAdjust="spacingAndGlyphs">38.9</text>
<rect x="151.5" y="87.5" width="84.5" height="29" rx="4" fill="#fff" stroke="#4d9fb0" stroke-width="1"/>
<text x="193.5" y="107.2" font-size="15.3" fill="#3f87c2" text-anchor="middle" textLength="64" lengthAdjust="spacingAndGlyphs">1878.522</text>
<circle cx="36.300" cy="694.500" r="20" fill="#000" fill-opacity=".04"/><circle cx="36.300" cy="694" r="19" fill="#fff"/>
<path d="M26.500 701.800a4.400 4.400 0 0 1 2.400-8.200 6.800 6.800 0 0 1 12.600-2.200 5.800 5.800 0 0 1 4.800 10.400z" fill="#2f9be8"/>
<path d="M24.200 700.300l9.100-7.600 6.700 6.100 6.600-6.500" fill="none" stroke="#eaf6ff" stroke-width="1.700" stroke-linejoin="round"/>
<linearGradient id="fg" x1="0" x2="1" y1="0" y2="0"><stop offset="0" stop-color="#e2504e"/><stop offset=".5" stop-color="#e8604a"/><stop offset="1" stop-color="#f0a040"/></linearGradient>
<clipPath id="fc1"><rect x="1025" y="694.400" width="43" height="22.600" rx="11.300"/></clipPath>
<rect x="1023.900" y="693.300" width="45.200" height="24.800" rx="12.400" fill="#fff" stroke="#e9a93a" stroke-width="2.200"/><g clip-path="url(#fc1)">
<rect x="1024" y="698.5" width="46" height="2.700" fill="url(#fg)"/>
<rect x="1024" y="703.9" width="46" height="2.700" fill="url(#fg)"/>
<rect x="1024" y="709.3" width="46" height="2.700" fill="url(#fg)"/>
<rect x="1024" y="714.7" width="46" height="2.700" fill="url(#fg)"/>
<rect x="1024" y="694" width="13.500" height="10.500" fill="#4a86d8"/>
<circle cx="1029.5" cy="697" r=".8" fill="#dff"/>
<circle cx="1029.5" cy="700" r=".8" fill="#dff"/>
<circle cx="1029.5" cy="703" r=".8" fill="#dff"/>
<circle cx="1033.5" cy="697" r=".8" fill="#dff"/>
<circle cx="1033.5" cy="700" r=".8" fill="#dff"/>
<circle cx="1033.5" cy="703" r=".8" fill="#dff"/>
</g>
<rect x="1041" y="686.500" width="33" height="17" rx="8.500" fill="#fff"/>
<text x="1049" y="700" font-size="13" fill="#222" text-anchor="middle">6</text>
<text x="1067.5" y="700" font-size="13" fill="#222" text-anchor="middle">7</text>
<rect x="1392" y="47" width="69" height="711" fill="#fff"/>
<line x1="1392.5" y1="47" x2="1392.5" y2="758" stroke="#2c2c2c" stroke-width="1"/>
<line x1="1392" y1="54.0" x2="1397" y2="54.0" stroke="#444" stroke-width="1"/>
<text x="1403" y="60.6" font-size="14.5" fill="#555861" textLength="45" lengthAdjust="spacingAndGlyphs">2075.0</text>
<line x1="1392" y1="99.8" x2="1397" y2="99.8" stroke="#444" stroke-width="1"/>
<text x="1403" y="106.4" font-size="14.5" fill="#555861" textLength="45" lengthAdjust="spacingAndGlyphs">2050.0</text>
<line x1="1392" y1="145.7" x2="1397" y2="145.7" stroke="#444" stroke-width="1"/>
<text x="1403" y="152.3" font-size="14.5" fill="#555861" textLength="45" lengthAdjust="spacingAndGlyphs">2025.0</text>
<line x1="1392" y1="191.6" x2="1397" y2="191.6" stroke="#444" stroke-width="1"/>
<text x="1403" y="198.2" font-size="14.5" fill="#555861" textLength="45" lengthAdjust="spacingAndGlyphs">2000.0</text>
<line x1="1392" y1="237.5" x2="1397" y2="237.5" stroke="#444" stroke-width="1"/>
<text x="1403" y="244.1" font-size="14.5" fill="#555861" textLength="45" lengthAdjust="spacingAndGlyphs">1975.0</text>
<line x1="1392" y1="283.4" x2="1397" y2="283.4" stroke="#444" stroke-width="1"/>
<text x="1403" y="290.0" font-size="14.5" fill="#555861" textLength="45" lengthAdjust="spacingAndGlyphs">1950.0</text>
<line x1="1392" y1="329.3" x2="1397" y2="329.3" stroke="#444" stroke-width="1"/>
<text x="1403" y="335.9" font-size="14.5" fill="#555861" textLength="45" lengthAdjust="spacingAndGlyphs">1925.0</text>
<line x1="1392" y1="375.2" x2="1397" y2="375.2" stroke="#444" stroke-width="1"/>
<text x="1403" y="381.8" font-size="14.5" fill="#555861" textLength="45" lengthAdjust="spacingAndGlyphs">1900.0</text>
<line x1="1392" y1="467.0" x2="1397" y2="467.0" stroke="#444" stroke-width="1"/>
<text x="1403" y="473.6" font-size="14.5" fill="#555861" textLength="45" lengthAdjust="spacingAndGlyphs">1850.0</text>
<line x1="1392" y1="512.9" x2="1397" y2="512.9" stroke="#444" stroke-width="1"/>
<text x="1403" y="519.5" font-size="14.5" fill="#555861" textLength="45" lengthAdjust="spacingAndGlyphs">1825.0</text>
<line x1="1392" y1="558.8" x2="1397" y2="558.8" stroke="#444" stroke-width="1"/>
<text x="1403" y="565.4" font-size="14.5" fill="#555861" textLength="45" lengthAdjust="spacingAndGlyphs">1800.0</text>
<line x1="1392" y1="604.7" x2="1397" y2="604.7" stroke="#444" stroke-width="1"/>
<text x="1403" y="611.3" font-size="14.5" fill="#555861" textLength="45" lengthAdjust="spacingAndGlyphs">1775.0</text>
<line x1="1392" y1="650.6" x2="1397" y2="650.6" stroke="#444" stroke-width="1"/>
<text x="1403" y="657.2" font-size="14.5" fill="#555861" textLength="45" lengthAdjust="spacingAndGlyphs">1750.0</text>
<line x1="1392" y1="696.4" x2="1397" y2="696.4" stroke="#444" stroke-width="1"/>
<text x="1403" y="703.0" font-size="14.5" fill="#555861" textLength="45" lengthAdjust="spacingAndGlyphs">1725.0</text>
<rect x="1406.500" y="56.500" width="37.500" height="22" rx="2" fill="#fff" stroke="#e0e3eb"/>
<text x="1413" y="71.2" font-size="14" fill="#50535e" textLength="26" lengthAdjust="spacingAndGlyphs">USD</text>
<rect x="1392" y="405" width="67" height="21" fill="#2a9d91"/>
<rect x="1397" y="428" width="63" height="20" fill="#2a9d91"/>
<line x1="1392" y1="426.500" x2="1460" y2="426.500" stroke="#eafffb" stroke-width="1" stroke-dasharray="3,2"/>
<line x1="1392" y1="414.500" x2="1397" y2="414.500" stroke="#fff"/>
<text x="1404" y="419.7" font-size="14.5" fill="#e6fffb" font-weight="bold" textLength="44" lengthAdjust="spacingAndGlyphs">1878.4</text>
<text x="1398" y="441.5" font-size="14.5" fill="#e6fffb" font-weight="bold" textLength="59" lengthAdjust="spacingAndGlyphs">01:03:18</text>
<rect x="1392" y="519.500" width="67" height="20" fill="#06e21f"/>
<line x1="1392" y1="529" x2="1397" y2="529" stroke="#0a7a16"/>
<text x="1404" y="533.6" font-size="14.5" fill="#1d4a22" textLength="44" lengthAdjust="spacingAndGlyphs">1815.9</text>
<line x1="8" y1="724.500" x2="1460" y2="724.500" stroke="#2c2c2c" stroke-width="1"/>
<line x1="77.4" y1="725" x2="77.4" y2="729.500" stroke="#333"/>
<text x="68.3" y="748.8" font-size="14.5" fill="#5a5d66" textLength="18.6" lengthAdjust="spacingAndGlyphs">Jul</text>
<line x1="249.4" y1="725" x2="249.4" y2="729.500" stroke="#333"/>
<text x="237.3" y="748.8" font-size="14.5" fill="#5a5d66" textLength="23" lengthAdjust="spacingAndGlyphs">Aug</text>
<line x1="406.3" y1="725" x2="406.3" y2="729.500" stroke="#333"/>
<text x="394.2" y="748.8" font-size="14.5" fill="#5a5d66" textLength="22.5" lengthAdjust="spacingAndGlyphs">Sep</text>
<line x1="570.6" y1="725" x2="570.6" y2="729.500" stroke="#333"/>
<text x="558.6" y="748.8" font-size="14.5" fill="#5a5d66" textLength="22.4" lengthAdjust="spacingAndGlyphs">Oct</text>
<line x1="736.8" y1="725" x2="736.8" y2="729.500" stroke="#333"/>
<text x="724.0" y="748.8" font-size="14.5" fill="#5a5d66" textLength="24.9" lengthAdjust="spacingAndGlyphs">Nov</text>
<line x1="890.6" y1="725" x2="890.6" y2="729.500" stroke="#333"/>
<text x="878.3" y="748.8" font-size="14.5" fill="#5a5d66" textLength="24.6" lengthAdjust="spacingAndGlyphs">Dec</text>
<line x1="1054.6" y1="725" x2="1054.6" y2="729.500" stroke="#333"/>
<text x="1037.7" y="748.8" font-size="14.5" fill="#3c3f48" font-weight="bold" textLength="32.8" lengthAdjust="spacingAndGlyphs">2021</text>
<line x1="1214.7" y1="725" x2="1214.7" y2="729.500" stroke="#333"/>
<text x="1201.9" y="748.8" font-size="14.5" fill="#5a5d66" textLength="23.8" lengthAdjust="spacingAndGlyphs">Feb</text>
<line x1="1326.3" y1="725" x2="1326.3" y2="729.500" stroke="#333"/>
<text x="1318.5" y="748.8" font-size="14.5" fill="#5a5d66" textLength="15.1" lengthAdjust="spacingAndGlyphs">22</text>
<g stroke="#222" stroke-width="1.400" fill="none"><circle cx="1425.500" cy="742.500" r="6.300"/>
<line x1="1432.8" y1="742.5" x2="1435.3" y2="742.5"/>
<line x1="1430.7" y1="747.7" x2="1432.4" y2="749.4"/>
<line x1="1425.5" y1="749.8" x2="1425.5" y2="752.3"/>
<line x1="1420.3" y1="747.7" x2="1418.6" y2="749.4"/>
<line x1="1418.2" y1="742.5" x2="1415.7" y2="742.5"/>
<line x1="1420.3" y1="737.3" x2="1418.6" y2="735.6"/>
<line x1="1425.5" y1="735.2" x2="1425.5" y2="732.7"/>
<line x1="1430.7" y1="737.3" x2="1432.4" y2="735.6"/>
</g>
<text x="27.3" y="787.7" font-size="16.5" fill="#1c1e24" textLength="18.7" lengthAdjust="spacingAndGlyphs" stroke="#1c1e24" stroke-width=".3">1D</text>
<text x="65" y="787.7" font-size="16.5" fill="#1c1e24" textLength="18.7" lengthAdjust="spacingAndGlyphs" stroke="#1c1e24" stroke-width=".3">5D</text>
<text x="103" y="787.7" font-size="16.5" fill="#1c1e24" textLength="20" lengthAdjust="spacingAndGlyphs" stroke="#1c1e24" stroke-width=".3">1M</text>
<text x="141.8" y="787.7" font-size="16.5" fill="#1c1e24" textLength="20.2" lengthAdjust="spacingAndGlyphs" stroke="#1c1e24" stroke-width=".3">3M</text>
<text x="181" y="787.7" font-size="16.5" fill="#1c1e24" textLength="20.6" lengthAdjust="spacingAndGlyphs" stroke="#1c1e24" stroke-width=".3">6M</text>
<text x="219.8" y="787.7" font-size="16.5" fill="#1c1e24" textLength="29.7" lengthAdjust="spacingAndGlyphs" stroke="#1c1e24" stroke-width=".3">YTD</text>
<text x="268" y="787.7" font-size="16.5" fill="#1c1e24" textLength="17" lengthAdjust="spacingAndGlyphs" stroke="#1c1e24" stroke-width=".3">1Y</text>
<text x="305" y="787.7" font-size="16.5" fill="#1c1e24" textLength="17" lengthAdjust="spacingAndGlyphs" stroke="#1c1e24" stroke-width=".3">5Y</text>
<text x="341" y="787.7" font-size="16.5" fill="#1c1e24" textLength="20" lengthAdjust="spacingAndGlyphs" stroke="#1c1e24" stroke-width=".3">All</text>
<line x1="382.500" y1="768" x2="382.500" y2="800" stroke="#e6e8ec"/>
<g stroke="#222" stroke-width="1.500" fill="none" stroke-linecap="round" stroke-linejoin="round"><path d="M405 781v-5.500h18.500v14a1.500 1.500 0 0 1-1.500 1.500h-5"/><path d="M409 773v4M419 773v4M405 778h18"/><path d="M404 786.500h9M410 783l3.500 3.500-3.500 3.500"/></g>
<text x="1157" y="787.7" font-size="16.5" fill="#1c1e24" textLength="137" lengthAdjust="spacingAndGlyphs" stroke="#1c1e24" stroke-width=".3">08:56:42 (UTC+8)</text>
<line x1="1314.500" y1="768" x2="1314.500" y2="800" stroke="#e6e8ec"/>
<text x="1335.5" y="787.7" font-size="16.5" fill="#1c1e24" textLength="15.5" lengthAdjust="spacingAndGlyphs" stroke="#1c1e24" stroke-width=".3">%</text>
<text x="1370.4" y="787.7" font-size="16.5" fill="#1c1e24" textLength="22.6" lengthAdjust="spacingAndGlyphs" stroke="#1c1e24" stroke-width=".3">log</text>
<text x="1411.4" y="787.7" font-size="16.5" fill="#1c1e24" textLength="34.2" lengthAdjust="spacingAndGlyphs" stroke="#1c1e24" stroke-width=".3">auto</text>
<rect x="0" y="806.5" width="1463" height="10.5" fill="#e3e4e8"/>
<rect x="8" y="810.5" width="1449" height="6.5" fill="#fdfdfd"/>
<line x1="171.5" y1="811" x2="171.5" y2="817" stroke="#e0e2e6" stroke-width="1.5"/>
<line x1="296" y1="811" x2="296" y2="817" stroke="#e0e2e6" stroke-width="1.5"/>
<line x1="422" y1="811" x2="422" y2="817" stroke="#e0e2e6" stroke-width="1.5"/>
<rect x="0" y="0" width="7" height="817" fill="#f4f4f4"/><rect x="2.500" y="0" width="4" height="817" fill="#dcdcdc"/>
<rect x="1459.500" y="47" width="3.500" height="770" fill="#ececef"/>
<rect x="7" y="0" width="1456" height="46" fill="#fff"/>
<line x1="7" y1="46.500" x2="1463" y2="46.500" stroke="#e2e4e9" stroke-width="1.200"/>
<line x1="132" y1="0" x2="132" y2="46" stroke="#e6e8ec"/>
<line x1="180.5" y1="0" x2="180.5" y2="46" stroke="#e6e8ec"/>
<line x1="229" y1="0" x2="229" y2="46" stroke="#e6e8ec"/>
<line x1="277" y1="0" x2="277" y2="46" stroke="#e6e8ec"/>
<line x1="351" y1="0" x2="351" y2="46" stroke="#e6e8ec"/>
<line x1="400" y1="0" x2="400" y2="46" stroke="#e6e8ec"/>
<line x1="448" y1="0" x2="448" y2="46" stroke="#e6e8ec"/>
<line x1="497" y1="0" x2="497" y2="46" stroke="#e6e8ec"/>
<line x1="546" y1="0" x2="546" y2="46" stroke="#e6e8ec"/>
<line x1="625.5" y1="0" x2="625.5" y2="46" stroke="#e6e8ec"/>
<line x1="964.7" y1="0" x2="964.7" y2="46" stroke="#e6e8ec"/>
<line x1="1013" y1="0" x2="1013" y2="46" stroke="#e6e8ec"/>
<line x1="1164.6" y1="0" x2="1164.6" y2="46" stroke="#e6e8ec"/>
<line x1="1213.7" y1="0" x2="1213.7" y2="46" stroke="#e6e8ec"/>
<line x1="1262" y1="0" x2="1262" y2="46" stroke="#e6e8ec"/>
<text x="22" y="28" font-size="18" fill="#16181d" textLength="66" lengthAdjust="spacingAndGlyphs" stroke="#16181d" stroke-width=".6">XAUUSD</text>
<text x="147.6" y="27.5" font-size="17" fill="#16181d" textLength="17.5" lengthAdjust="spacingAndGlyphs" stroke="#16181d" stroke-width=".3">2h</text>
<g stroke="#1c1e24" stroke-width="1.500" fill="none" stroke-linecap="round" stroke-linejoin="round"><rect x="197.500" y="14" width="4.500" height="15"/><path d="M199.750 10v4M199.750 29v4"/><rect x="208" y="17" width="4.500" height="9"/><path d="M210.250 13.500v3.500M210.250 26v4"/></g>
<g stroke="#1c1e24" stroke-width="1.500" fill="none" stroke-linecap="round" stroke-linejoin="round"><circle cx="252.500" cy="22" r="11"/><path d="M247 22h11M252.500 16.500v11"/></g>
<g stroke="#1c1e24" stroke-width="1.500" fill="none" stroke-linecap="round" stroke-linejoin="round"><path d="M306 12.600q-1-.9-2.600-.9-3.400 0-3.400 4v10.500q0 4.300-3.400 4.300-1.400 0-2.300-.8M296.300 18.500h9.500"/><path d="M304.300 26.300l5.500 5.200M309.800 26.300l-5.500 5.200"/></g>
<path d="M333.300 19.300l4.700 4.200 4.700-4.200" stroke="#1c1e24" stroke-width="1.500" fill="none" stroke-linecap="round" stroke-linejoin="round"/>
<g stroke="#1c1e24" stroke-width="1.500" fill="none" stroke-linecap="round" stroke-linejoin="round"><path d="M364.500 30.500v-6.500h7v6.500M371.500 24v-6h7v12.500M378.500 18v-4.500h7v17h-21"/></g>
<g stroke="#1c1e24" stroke-width="1.500" fill="none" stroke-linecap="round" stroke-linejoin="round"><path d="M414.500 19l6-5.500 7.500 5 7.500-6.500"/><path d="M415 31v-4M420 31v-7M425 31v-5M430 31v-6M435 31v-9"/></g>
<g stroke="#1c1e24" stroke-width="1.500" fill="none" stroke-linecap="round" stroke-linejoin="round"><path d="M476 30.500a9.500 9.500 0 1 1 6.800-9"/><path d="M463.500 15a3.700 3.700 0 0 1 5.500-3.800M479 11.200a3.700 3.700 0 0 1 5.500 3.800"/><path d="M473.500 16.500v5.500h-4.500"/><path d="M481 26v9M476.500 30.500h9"/></g>
<g stroke="#1c1e24" stroke-width="1.500" fill="none" stroke-linecap="round" stroke-linejoin="round"><path d="M522 15.500l-7.500 7 7.500 7zM532 15.500l-7.500 7 7.500 7z"/></g>
<g stroke="#1c1e24" stroke-width="1.500" fill="none" stroke-linecap="round" stroke-linejoin="round"><path d="M565 16l-5 4.500 5 4.500M560.500 20.500h9.500a5.500 5.500 0 0 1 5.500 5.500v2.500"/></g>
<g stroke="#c9ccd3" stroke-width="1.500" fill="none" stroke-linecap="round" stroke-linejoin="round"><path d="M605.500 16l5 4.500-5 4.500M610 20.500h-9.500a5.500 5.500 0 0 0-5.500 5.500v2.500"/></g>
<rect x="978.500" y="11.500" width="23.500" height="20.500" rx="3.500" stroke="#1c1e24" stroke-width="1.500" fill="none" stroke-linecap="round" stroke-linejoin="round"/>
<g stroke="#1c1e24" stroke-width="1.500" fill="none" stroke-linecap="round" stroke-linejoin="round"><path d="M1029.500 30.500a6 6 0 0 1-1-11.900 8.200 8.200 0 0 1 16-1.500 6.800 6.800 0 0 1 1 13.400z"/><path d="M1033 22.500l3.500 3.500 6-6.500"/></g>
<text x="1058.7" y="28" font-size="17" fill="#16181d" textLength="72.3" lengthAdjust="spacingAndGlyphs" stroke="#16181d" stroke-width=".3">Unnamed</text>
<path d="M1146 19.800l4.700 4.200 4.700-4.200" stroke="#1c1e24" stroke-width="1.500" fill="none" stroke-linecap="round" stroke-linejoin="round"/>
<g stroke="#1c1e24" stroke-width="1.500" fill="none" stroke-linecap="round" stroke-linejoin="round"><polygon points="1197.6,19.7 1200.7,19.9 1200.7,23.1 1197.6,23.3 1196.3,26.6 1198.3,29.0 1196.0,31.3 1193.6,29.3 1190.3,30.6 1190.1,33.7 1186.9,33.7 1186.7,30.6 1183.4,29.3 1181.0,31.3 1178.7,29.0 1180.7,26.6 1179.4,23.3 1176.3,23.1 1176.3,19.9 1179.4,19.7 1180.7,16.4 1178.7,14.0 1181.0,11.7 1183.4,13.7 1186.7,12.4 1186.9,9.3 1190.1,9.3 1190.3,12.4 1193.6,13.7 1196.0,11.7 1198.3,14.0 1196.3,16.4"/><circle cx="1188.500" cy="21.500" r="4"/></g>
<g stroke="#1c1e24" stroke-width="1.500" fill="none" stroke-linecap="round" stroke-linejoin="round"><path d="M1228 17v-5.500h5.500M1228 11.500l6.500 6.500M1247.500 17v-5.500h-5.500M1247.500 11.500l-6.500 6.500M1228 26v5.500h5.500M1228 31.500l6.500-6.500M1247.500 26v5.500h-5.500M1247.500 31.500l-6.500-6.500"/></g>
<g stroke="#1c1e24" stroke-width="1.500" fill="none" stroke-linecap="round" stroke-linejoin="round"><path d="M1273.500 16.500a2 2 0 0 1 2-2h3.500l2-3.500h9.500l2 3.500h3.500a2 2 0 0 1 2 2v12a2 2 0 0 1-2 2h-20.500a2 2 0 0 1-2-2z"/><circle cx="1285.800" cy="22" r="5"/></g>
<rect x="1311" y="0" width="149" height="45.500" fill="#2196f3"/>
<line x1="1411.500" y1="0" x2="1411.500" y2="45.500" stroke="#7fd0ff" stroke-width="1.500"/>
<text x="1331.5" y="28.7" font-size="18" fill="#eaf6ff" font-weight="bold" textLength="58.5" lengthAdjust="spacingAndGlyphs">Publish</text>
<circle cx="1435" cy="22" r="12.500" fill="none" stroke="#bfe6ff" stroke-width="2"/><path d="M1431 15.500l10 6.500-10 6.500z" fill="#bfe6ff"/>
</svg>
</body></html>
